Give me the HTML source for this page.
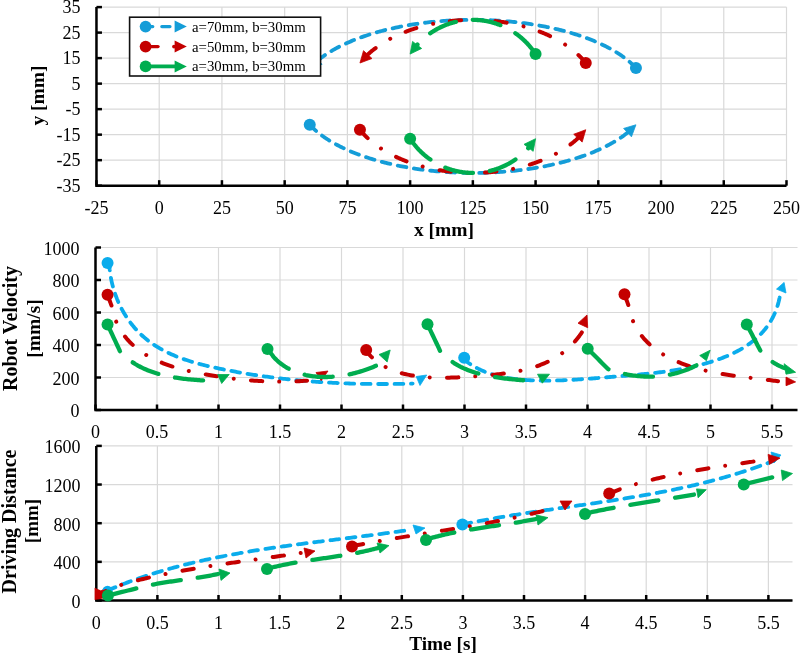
<!DOCTYPE html>
<html><head><meta charset="utf-8"><style>html,body{margin:0;padding:0;background:#fff;width:800px;height:654px;overflow:hidden}</style></head>
<body>
<svg width="800" height="654" viewBox="0 0 800 654" font-family="'Liberation Serif', serif" style="display:block;will-change:transform">
<rect width="800" height="654" fill="#fff"/>
<line x1="96.47" y1="7.10" x2="786.50" y2="7.10" stroke="#d9d9d9" stroke-width="1.2"/>
<line x1="96.47" y1="32.61" x2="786.50" y2="32.61" stroke="#d9d9d9" stroke-width="1.2"/>
<line x1="96.47" y1="58.12" x2="786.50" y2="58.12" stroke="#d9d9d9" stroke-width="1.2"/>
<line x1="96.47" y1="83.63" x2="786.50" y2="83.63" stroke="#d9d9d9" stroke-width="1.2"/>
<line x1="96.47" y1="109.14" x2="786.50" y2="109.14" stroke="#d9d9d9" stroke-width="1.2"/>
<line x1="96.47" y1="134.65" x2="786.50" y2="134.65" stroke="#d9d9d9" stroke-width="1.2"/>
<line x1="96.47" y1="160.16" x2="786.50" y2="160.16" stroke="#d9d9d9" stroke-width="1.2"/>
<line x1="96.47" y1="185.67" x2="786.50" y2="185.67" stroke="#d9d9d9" stroke-width="1.2"/>
<line x1="96.47" y1="7.10" x2="96.47" y2="185.67" stroke="#d9d9d9" stroke-width="1.2"/>
<line x1="159.20" y1="7.10" x2="159.20" y2="185.67" stroke="#d9d9d9" stroke-width="1.2"/>
<line x1="221.93" y1="7.10" x2="221.93" y2="185.67" stroke="#d9d9d9" stroke-width="1.2"/>
<line x1="284.66" y1="7.10" x2="284.66" y2="185.67" stroke="#d9d9d9" stroke-width="1.2"/>
<line x1="347.39" y1="7.10" x2="347.39" y2="185.67" stroke="#d9d9d9" stroke-width="1.2"/>
<line x1="410.12" y1="7.10" x2="410.12" y2="185.67" stroke="#d9d9d9" stroke-width="1.2"/>
<line x1="472.85" y1="7.10" x2="472.85" y2="185.67" stroke="#d9d9d9" stroke-width="1.2"/>
<line x1="535.58" y1="7.10" x2="535.58" y2="185.67" stroke="#d9d9d9" stroke-width="1.2"/>
<line x1="598.31" y1="7.10" x2="598.31" y2="185.67" stroke="#d9d9d9" stroke-width="1.2"/>
<line x1="661.04" y1="7.10" x2="661.04" y2="185.67" stroke="#d9d9d9" stroke-width="1.2"/>
<line x1="723.77" y1="7.10" x2="723.77" y2="185.67" stroke="#d9d9d9" stroke-width="1.2"/>
<line x1="786.50" y1="7.10" x2="786.50" y2="185.67" stroke="#d9d9d9" stroke-width="1.2"/>
<path d="M96.47,7.10 V185.67 H786.50" fill="none" stroke="#000" stroke-width="2.5"/>
<line x1="96.47" y1="7.10" x2="101.97" y2="7.10" stroke="#000" stroke-width="2.5"/>
<line x1="96.47" y1="32.61" x2="101.97" y2="32.61" stroke="#000" stroke-width="2.5"/>
<line x1="96.47" y1="58.12" x2="101.97" y2="58.12" stroke="#000" stroke-width="2.5"/>
<line x1="96.47" y1="83.63" x2="101.97" y2="83.63" stroke="#000" stroke-width="2.5"/>
<line x1="96.47" y1="109.14" x2="101.97" y2="109.14" stroke="#000" stroke-width="2.5"/>
<line x1="96.47" y1="134.65" x2="101.97" y2="134.65" stroke="#000" stroke-width="2.5"/>
<line x1="96.47" y1="160.16" x2="101.97" y2="160.16" stroke="#000" stroke-width="2.5"/>
<line x1="96.47" y1="185.67" x2="101.97" y2="185.67" stroke="#000" stroke-width="2.5"/>
<line x1="96.47" y1="185.67" x2="96.47" y2="180.17" stroke="#000" stroke-width="2.5"/>
<line x1="159.20" y1="185.67" x2="159.20" y2="180.17" stroke="#000" stroke-width="2.5"/>
<line x1="221.93" y1="185.67" x2="221.93" y2="180.17" stroke="#000" stroke-width="2.5"/>
<line x1="284.66" y1="185.67" x2="284.66" y2="180.17" stroke="#000" stroke-width="2.5"/>
<line x1="347.39" y1="185.67" x2="347.39" y2="180.17" stroke="#000" stroke-width="2.5"/>
<line x1="410.12" y1="185.67" x2="410.12" y2="180.17" stroke="#000" stroke-width="2.5"/>
<line x1="472.85" y1="185.67" x2="472.85" y2="180.17" stroke="#000" stroke-width="2.5"/>
<line x1="535.58" y1="185.67" x2="535.58" y2="180.17" stroke="#000" stroke-width="2.5"/>
<line x1="598.31" y1="185.67" x2="598.31" y2="180.17" stroke="#000" stroke-width="2.5"/>
<line x1="661.04" y1="185.67" x2="661.04" y2="180.17" stroke="#000" stroke-width="2.5"/>
<line x1="723.77" y1="185.67" x2="723.77" y2="180.17" stroke="#000" stroke-width="2.5"/>
<line x1="786.50" y1="185.67" x2="786.50" y2="180.17" stroke="#000" stroke-width="2.5"/>
<path d="M635.95,67.98 L635.29,67.28 L634.62,66.58 L633.94,65.88 L633.23,65.18 L632.51,64.49 L631.78,63.80 L631.03,63.12 L630.27,62.44 L629.49,61.76 L628.69,61.08 L627.88,60.41 L627.05,59.74 L626.21,59.08 L625.35,58.42 L624.48,57.76 L623.59,57.10 L622.69,56.45 L621.77,55.81 L620.84,55.17 L619.90,54.53 L618.94,53.90 L617.96,53.27 L616.97,52.64 L615.97,52.02 L614.95,51.40 L613.92,50.79 L612.88,50.18 L611.82,49.58 L610.75,48.98 L609.66,48.39 L608.56,47.80 L607.45,47.22 L606.32,46.64 L605.18,46.06 L604.03,45.49 L602.86,44.93 L601.69,44.37 L600.49,43.81 L599.29,43.27 L598.08,42.72 L596.85,42.18 L595.61,41.65 L594.35,41.12 L593.09,40.60 L591.81,40.08 L590.53,39.57 L589.23,39.06 L587.92,38.56 L586.59,38.07 L585.26,37.58 L583.92,37.10 L582.56,36.62 L581.19,36.15 L579.82,35.68 L578.43,35.22 L577.03,34.77 L575.62,34.32 L574.21,33.88 L572.78,33.45 L571.34,33.02 L569.89,32.60 L568.43,32.18 L566.97,31.77 L565.49,31.37 L564.01,30.97 L562.51,30.58 L561.01,30.19 L559.50,29.82 L557.98,29.44 L556.45,29.08 L554.91,28.72 L553.37,28.37 L551.82,28.03 L550.26,27.69 L548.69,27.36 L547.11,27.03 L545.53,26.71 L543.94,26.40 L542.34,26.10 L540.74,25.80 L539.13,25.51 L537.51,25.23 L535.89,24.95 L534.26,24.68 L532.62,24.42 L530.98,24.17 L529.33,23.92 L527.68,23.68 L526.02,23.45 L524.36,23.22 L522.69,23.00 L521.02,22.79 L519.34,22.58 L517.66,22.39 L515.97,22.20 L514.28,22.01 L512.58,21.84 L510.88,21.67 L509.18,21.51 L507.47,21.36 L505.76,21.21 L504.05,21.07 L502.33,20.94 L500.61,20.82 L498.89,20.70 L497.17,20.59 L495.44,20.49 L493.71,20.40 L491.98,20.31 L490.25,20.23 L488.51,20.16 L486.78,20.10 L485.04,20.04 L483.30,19.99 L481.56,19.95 L479.82,19.92 L478.08,19.89 L476.33,19.87 L474.59,19.86 L472.85,19.86 L471.11,19.86 L469.37,19.87 L467.62,19.89 L465.88,19.92 L464.14,19.95 L462.40,19.99 L460.66,20.04 L458.92,20.10 L457.19,20.16 L455.45,20.23 L453.72,20.31 L451.99,20.40 L450.26,20.49 L448.53,20.59 L446.81,20.70 L445.09,20.82 L443.37,20.94 L441.65,21.07 L439.94,21.21 L438.23,21.36 L436.52,21.51 L434.82,21.67 L433.12,21.84 L431.42,22.01 L429.73,22.20 L428.04,22.39 L426.36,22.58 L424.68,22.79 L423.01,23.00 L421.34,23.22 L419.68,23.45 L418.02,23.68 L416.37,23.92 L414.72,24.17 L413.08,24.42 L411.44,24.68 L409.81,24.95 L408.19,25.23 L406.57,25.51 L404.96,25.80 L403.36,26.10 L401.76,26.40 L400.17,26.71 L398.59,27.03 L397.01,27.36 L395.44,27.69 L393.88,28.03 L392.33,28.37 L390.79,28.72 L389.25,29.08 L387.72,29.44 L386.20,29.82 L384.69,30.19 L383.19,30.58 L381.69,30.97 L380.21,31.37 L378.73,31.77 L377.27,32.18 L375.81,32.60 L374.36,33.02 L372.92,33.45 L371.49,33.88 L370.08,34.32 L368.67,34.77 L367.27,35.22 L365.88,35.68 L364.51,36.15 L363.14,36.62 L361.78,37.10 L360.44,37.58 L359.11,38.07 L357.78,38.56 L356.47,39.06 L355.17,39.57 L353.89,40.08 L352.61,40.60 L351.35,41.12 L350.09,41.65 L348.85,42.18 L347.62,42.72 L346.41,43.27 L345.21,43.81 L344.01,44.37 L342.84,44.93 L341.67,45.49 L340.52,46.06 L339.38,46.64 L338.25,47.22 L337.14,47.80 L336.04,48.39 L334.95,48.98 L333.88,49.58 L332.82,50.18 L331.78,50.79 L330.75,51.40 L329.73,52.02 L328.73,52.64 L327.74,53.27 L326.76,53.90 L325.80,54.53 L324.86,55.17 L323.93,55.81 L323.01,56.45 L322.11,57.10 L321.22,57.76 L320.35,58.42 L319.49,59.08 L318.65,59.74 L318.15,60.14" fill="none" stroke="#149dd8" stroke-width="3.8" stroke-linecap="round" stroke-linejoin="round" stroke-dasharray="8.8,7.6" stroke-dashoffset="0"/>
<path d="M309.75,67.98 L314.24,55.93 L322.08,64.34 Z" fill="#149dd8" stroke="#149dd8" stroke-width="0.8" stroke-linejoin="round"/>
<circle cx="635.95" cy="67.98" r="6.0" fill="#149dd8"/>
<path d="M309.75,124.79 L310.41,125.49 L311.08,126.19 L311.76,126.89 L312.47,127.59 L313.19,128.28 L313.92,128.97 L314.67,129.65 L315.43,130.33 L316.21,131.01 L317.01,131.69 L317.82,132.36 L318.65,133.03 L319.49,133.69 L320.35,134.35 L321.22,135.01 L322.11,135.67 L323.01,136.32 L323.93,136.96 L324.86,137.60 L325.80,138.24 L326.76,138.87 L327.74,139.50 L328.73,140.13 L329.73,140.75 L330.75,141.37 L331.78,141.98 L332.82,142.59 L333.88,143.19 L334.95,143.79 L336.04,144.38 L337.14,144.97 L338.25,145.55 L339.38,146.13 L340.52,146.71 L341.67,147.28 L342.84,147.84 L344.01,148.40 L345.21,148.96 L346.41,149.50 L347.62,150.05 L348.85,150.59 L350.09,151.12 L351.35,151.65 L352.61,152.17 L353.89,152.69 L355.17,153.20 L356.47,153.71 L357.78,154.21 L359.11,154.70 L360.44,155.19 L361.78,155.67 L363.14,156.15 L364.51,156.62 L365.88,157.09 L367.27,157.55 L368.67,158.00 L370.08,158.45 L371.49,158.89 L372.92,159.32 L374.36,159.75 L375.81,160.17 L377.27,160.59 L378.73,161.00 L380.21,161.40 L381.69,161.80 L383.19,162.19 L384.69,162.58 L386.20,162.95 L387.72,163.33 L389.25,163.69 L390.79,164.05 L392.33,164.40 L393.88,164.74 L395.44,165.08 L397.01,165.41 L398.59,165.74 L400.17,166.06 L401.76,166.37 L403.36,166.67 L404.96,166.97 L406.57,167.26 L408.19,167.54 L409.81,167.82 L411.44,168.09 L413.08,168.35 L414.72,168.60 L416.37,168.85 L418.02,169.09 L419.68,169.32 L421.34,169.55 L423.01,169.77 L424.68,169.98 L426.36,170.19 L428.04,170.38 L429.73,170.57 L431.42,170.76 L433.12,170.93 L434.82,171.10 L436.52,171.26 L438.23,171.41 L439.94,171.56 L441.65,171.70 L443.37,171.83 L445.09,171.95 L446.81,172.07 L448.53,172.18 L450.26,172.28 L451.99,172.37 L453.72,172.46 L455.45,172.54 L457.19,172.61 L458.92,172.67 L460.66,172.73 L462.40,172.78 L464.14,172.82 L465.88,172.85 L467.62,172.88 L469.37,172.90 L471.11,172.91 L472.85,172.91 L474.59,172.91 L476.33,172.90 L478.08,172.88 L479.82,172.85 L481.56,172.82 L483.30,172.78 L485.04,172.73 L486.78,172.67 L488.51,172.61 L490.25,172.54 L491.98,172.46 L493.71,172.37 L495.44,172.28 L497.17,172.18 L498.89,172.07 L500.61,171.95 L502.33,171.83 L504.05,171.70 L505.76,171.56 L507.47,171.41 L509.18,171.26 L510.88,171.10 L512.58,170.93 L514.28,170.76 L515.97,170.57 L517.66,170.38 L519.34,170.19 L521.02,169.98 L522.69,169.77 L524.36,169.55 L526.02,169.32 L527.68,169.09 L529.33,168.85 L530.98,168.60 L532.62,168.35 L534.26,168.09 L535.89,167.82 L537.51,167.54 L539.13,167.26 L540.74,166.97 L542.34,166.67 L543.94,166.37 L545.53,166.06 L547.11,165.74 L548.69,165.41 L550.26,165.08 L551.82,164.74 L553.37,164.40 L554.91,164.05 L556.45,163.69 L557.98,163.33 L559.50,162.95 L561.01,162.58 L562.51,162.19 L564.01,161.80 L565.49,161.40 L566.97,161.00 L568.43,160.59 L569.89,160.17 L571.34,159.75 L572.78,159.32 L574.21,158.89 L575.62,158.45 L577.03,158.00 L578.43,157.55 L579.82,157.09 L581.19,156.62 L582.56,156.15 L583.92,155.67 L585.26,155.19 L586.59,154.70 L587.92,154.21 L589.23,153.71 L590.53,153.20 L591.81,152.69 L593.09,152.17 L594.35,151.65 L595.61,151.12 L596.85,150.59 L598.08,150.05 L599.29,149.50 L600.49,148.96 L601.69,148.40 L602.86,147.84 L604.03,147.28 L605.18,146.71 L606.32,146.13 L607.45,145.55 L608.56,144.97 L609.66,144.38 L610.75,143.79 L611.82,143.19 L612.88,142.59 L613.92,141.98 L614.95,141.37 L615.97,140.75 L616.97,140.13 L617.96,139.50 L618.94,138.87 L619.90,138.24 L620.84,137.60 L621.77,136.96 L622.69,136.32 L623.59,135.67 L624.48,135.01 L625.35,134.35 L626.21,133.69 L627.05,133.03 L627.55,132.63" fill="none" stroke="#149dd8" stroke-width="3.8" stroke-linecap="round" stroke-linejoin="round" stroke-dasharray="8.8,7.6" stroke-dashoffset="0"/>
<path d="M635.95,124.79 L631.46,136.84 L623.62,128.43 Z" fill="#149dd8" stroke="#149dd8" stroke-width="0.8" stroke-linejoin="round"/>
<circle cx="309.75" cy="124.79" r="6.0" fill="#149dd8"/>
<path d="M585.76,63.03 L585.25,62.39 L584.72,61.75 L584.19,61.11 L583.64,60.48 L583.09,59.85 L582.53,59.22 L581.95,58.60 L581.37,57.98 L580.78,57.37 L580.18,56.75 L579.57,56.14 L578.95,55.54 L578.32,54.94 L577.68,54.34 L577.03,53.74 L576.37,53.15 L575.71,52.56 L575.03,51.98 L574.35,51.40 L573.66,50.83 L572.96,50.25 L572.24,49.69 L571.53,49.12 L570.80,48.56 L570.06,48.01 L569.32,47.46 L568.57,46.91 L567.81,46.37 L567.04,45.83 L566.26,45.29 L565.47,44.76 L564.68,44.24 L563.88,43.72 L563.07,43.20 L562.25,42.69 L561.43,42.19 L560.59,41.68 L559.75,41.19 L558.90,40.69 L558.05,40.21 L557.18,39.72 L556.31,39.25 L555.44,38.77 L554.55,38.31 L553.66,37.84 L552.76,37.39 L551.85,36.93 L550.94,36.49 L550.02,36.05 L549.10,35.61 L548.16,35.18 L547.22,34.75 L546.28,34.33 L545.32,33.92 L544.37,33.51 L543.40,33.10 L542.43,32.70 L541.45,32.31 L540.47,31.92 L539.48,31.54 L538.49,31.16 L537.48,30.79 L536.48,30.43 L535.47,30.07 L534.45,29.71 L533.43,29.37 L532.40,29.03 L531.37,28.69 L530.33,28.36 L529.29,28.03 L528.24,27.72 L527.18,27.40 L526.13,27.10 L525.06,26.80 L524.00,26.50 L522.93,26.22 L521.85,25.93 L520.77,25.66 L519.69,25.39 L518.60,25.12 L517.51,24.87 L516.41,24.62 L515.31,24.37 L514.21,24.13 L513.10,23.90 L511.99,23.67 L510.88,23.45 L509.76,23.24 L508.64,23.03 L507.51,22.83 L506.39,22.64 L505.26,22.45 L504.13,22.27 L502.99,22.10 L501.85,21.93 L500.71,21.77 L499.57,21.61 L498.43,21.46 L497.28,21.32 L496.13,21.18 L494.98,21.05 L493.82,20.93 L492.67,20.82 L491.51,20.71 L490.35,20.60 L489.19,20.51 L488.03,20.42 L486.87,20.33 L485.71,20.26 L484.54,20.19 L483.37,20.12 L482.21,20.07 L481.04,20.02 L479.87,19.97 L478.70,19.94 L477.53,19.91 L476.36,19.88 L475.19,19.87 L474.02,19.86 L472.85,19.86 L471.68,19.86 L470.51,19.87 L469.34,19.88 L468.17,19.91 L467.00,19.94 L465.83,19.97 L464.66,20.02 L463.49,20.07 L462.33,20.12 L461.16,20.19 L459.99,20.26 L458.83,20.33 L457.67,20.42 L456.51,20.51 L455.35,20.60 L454.19,20.71 L453.03,20.82 L451.88,20.93 L450.72,21.05 L449.57,21.18 L448.42,21.32 L447.27,21.46 L446.13,21.61 L444.99,21.77 L443.85,21.93 L442.71,22.10 L441.57,22.27 L440.44,22.45 L439.31,22.64 L438.19,22.83 L437.06,23.03 L435.94,23.24 L434.82,23.45 L433.71,23.67 L432.60,23.90 L431.49,24.13 L430.39,24.37 L429.29,24.62 L428.19,24.87 L427.10,25.12 L426.01,25.39 L424.93,25.66 L423.85,25.93 L422.77,26.22 L421.70,26.50 L420.64,26.80 L419.57,27.10 L418.52,27.40 L417.46,27.72 L416.41,28.03 L415.37,28.36 L414.33,28.69 L413.30,29.03 L412.27,29.37 L411.25,29.71 L410.23,30.07 L409.22,30.43 L408.22,30.79 L407.21,31.16 L406.22,31.54 L405.23,31.92 L404.25,32.31 L403.27,32.70 L402.30,33.10 L401.33,33.51 L400.38,33.92 L399.42,34.33 L398.48,34.75 L397.54,35.18 L396.60,35.61 L395.68,36.05 L394.76,36.49 L393.85,36.93 L392.94,37.39 L392.04,37.84 L391.15,38.31 L390.26,38.77 L389.39,39.25 L388.52,39.72 L387.65,40.21 L386.80,40.69 L385.95,41.19 L385.11,41.68 L384.27,42.19 L383.45,42.69 L382.63,43.20 L381.82,43.72 L381.02,44.24 L380.23,44.76 L379.44,45.29 L378.66,45.83 L377.89,46.37 L377.13,46.91 L376.38,47.46 L375.64,48.01 L374.90,48.56 L374.17,49.12 L373.46,49.69 L372.74,50.25 L372.04,50.83 L371.35,51.40 L370.67,51.98 L369.99,52.56 L369.33,53.15 L368.67,53.74 L368.02,54.34 L367.74,54.60" fill="none" stroke="#c40000" stroke-width="4.0" stroke-linecap="round" stroke-linejoin="round" stroke-dasharray="11.4,16.9,0.01,17.3" stroke-dashoffset="0.5"/>
<path d="M359.94,63.03 L363.53,50.68 L371.97,58.50 Z" fill="#c40000" stroke="#c40000" stroke-width="0.8" stroke-linejoin="round"/>
<circle cx="585.76" cy="63.03" r="6.0" fill="#c40000"/>
<path d="M359.94,129.74 L360.45,130.38 L360.98,131.02 L361.51,131.66 L362.06,132.29 L362.61,132.92 L363.17,133.55 L363.75,134.17 L364.33,134.79 L364.92,135.40 L365.52,136.02 L366.13,136.63 L366.75,137.23 L367.38,137.83 L368.02,138.43 L368.67,139.03 L369.33,139.62 L369.99,140.21 L370.67,140.79 L371.35,141.37 L372.04,141.94 L372.74,142.52 L373.46,143.08 L374.17,143.65 L374.90,144.21 L375.64,144.76 L376.38,145.31 L377.13,145.86 L377.89,146.40 L378.66,146.94 L379.44,147.48 L380.23,148.01 L381.02,148.53 L381.82,149.05 L382.63,149.57 L383.45,150.08 L384.27,150.58 L385.11,151.09 L385.95,151.58 L386.80,152.08 L387.65,152.56 L388.52,153.05 L389.39,153.52 L390.26,154.00 L391.15,154.46 L392.04,154.93 L392.94,155.38 L393.85,155.84 L394.76,156.28 L395.68,156.72 L396.60,157.16 L397.54,157.59 L398.48,158.02 L399.42,158.44 L400.38,158.85 L401.33,159.26 L402.30,159.67 L403.27,160.07 L404.25,160.46 L405.23,160.85 L406.22,161.23 L407.21,161.61 L408.22,161.98 L409.22,162.34 L410.23,162.70 L411.25,163.06 L412.27,163.40 L413.30,163.74 L414.33,164.08 L415.37,164.41 L416.41,164.74 L417.46,165.05 L418.52,165.37 L419.57,165.67 L420.64,165.97 L421.70,166.27 L422.77,166.55 L423.85,166.84 L424.93,167.11 L426.01,167.38 L427.10,167.65 L428.19,167.90 L429.29,168.15 L430.39,168.40 L431.49,168.64 L432.60,168.87 L433.71,169.10 L434.82,169.32 L435.94,169.53 L437.06,169.74 L438.19,169.94 L439.31,170.13 L440.44,170.32 L441.57,170.50 L442.71,170.67 L443.85,170.84 L444.99,171.00 L446.13,171.16 L447.27,171.31 L448.42,171.45 L449.57,171.59 L450.72,171.72 L451.88,171.84 L453.03,171.95 L454.19,172.06 L455.35,172.17 L456.51,172.26 L457.67,172.35 L458.83,172.44 L459.99,172.51 L461.16,172.58 L462.33,172.65 L463.49,172.70 L464.66,172.75 L465.83,172.80 L467.00,172.83 L468.17,172.86 L469.34,172.89 L470.51,172.90 L471.68,172.91 L472.85,172.91 L474.02,172.91 L475.19,172.90 L476.36,172.89 L477.53,172.86 L478.70,172.83 L479.87,172.80 L481.04,172.75 L482.21,172.70 L483.37,172.65 L484.54,172.58 L485.71,172.51 L486.87,172.44 L488.03,172.35 L489.19,172.26 L490.35,172.17 L491.51,172.06 L492.67,171.95 L493.82,171.84 L494.98,171.72 L496.13,171.59 L497.28,171.45 L498.43,171.31 L499.57,171.16 L500.71,171.00 L501.85,170.84 L502.99,170.67 L504.13,170.50 L505.26,170.32 L506.39,170.13 L507.51,169.94 L508.64,169.74 L509.76,169.53 L510.88,169.32 L511.99,169.10 L513.10,168.87 L514.21,168.64 L515.31,168.40 L516.41,168.15 L517.51,167.90 L518.60,167.65 L519.69,167.38 L520.77,167.11 L521.85,166.84 L522.93,166.55 L524.00,166.27 L525.06,165.97 L526.13,165.67 L527.18,165.37 L528.24,165.05 L529.29,164.74 L530.33,164.41 L531.37,164.08 L532.40,163.74 L533.43,163.40 L534.45,163.06 L535.47,162.70 L536.48,162.34 L537.48,161.98 L538.49,161.61 L539.48,161.23 L540.47,160.85 L541.45,160.46 L542.43,160.07 L543.40,159.67 L544.37,159.26 L545.32,158.85 L546.28,158.44 L547.22,158.02 L548.16,157.59 L549.10,157.16 L550.02,156.72 L550.94,156.28 L551.85,155.84 L552.76,155.38 L553.66,154.93 L554.55,154.46 L555.44,154.00 L556.31,153.52 L557.18,153.05 L558.05,152.56 L558.90,152.08 L559.75,151.58 L560.59,151.09 L561.43,150.58 L562.25,150.08 L563.07,149.57 L563.88,149.05 L564.68,148.53 L565.47,148.01 L566.26,147.48 L567.04,146.94 L567.81,146.40 L568.57,145.86 L569.32,145.31 L570.06,144.76 L570.80,144.21 L571.53,143.65 L572.24,143.08 L572.96,142.52 L573.66,141.94 L574.35,141.37 L575.03,140.79 L575.71,140.21 L576.37,139.62 L577.03,139.03 L577.68,138.43 L577.96,138.17" fill="none" stroke="#c40000" stroke-width="4.0" stroke-linecap="round" stroke-linejoin="round" stroke-dasharray="11.4,16.9,0.01,17.3" stroke-dashoffset="0"/>
<path d="M585.76,129.74 L582.17,142.09 L573.73,134.27 Z" fill="#c40000" stroke="#c40000" stroke-width="0.8" stroke-linejoin="round"/>
<circle cx="359.94" cy="129.74" r="6.0" fill="#c40000"/>
<path d="M535.58,54.08 L535.24,53.56 L534.89,53.04 L534.54,52.52 L534.18,52.01 L533.82,51.50 L533.46,50.99 L533.09,50.49 L532.71,49.99 L532.34,49.49 L531.96,48.99 L531.57,48.50 L531.18,48.01 L530.79,47.53 L530.39,47.05 L529.99,46.57 L529.59,46.09 L529.18,45.62 L528.77,45.15 L528.35,44.69 L527.94,44.23 L527.51,43.77 L527.09,43.31 L526.66,42.86 L526.22,42.42 L525.78,41.97 L525.34,41.53 L524.90,41.10 L524.45,40.66 L524.00,40.23 L523.54,39.81 L523.08,39.39 L522.62,38.97 L522.16,38.56 L521.69,38.15 L521.22,37.74 L520.74,37.34 L520.26,36.94 L519.78,36.55 L519.30,36.16 L518.81,35.77 L518.32,35.39 L517.82,35.02 L517.33,34.64 L516.83,34.27 L516.32,33.91 L515.82,33.55 L515.31,33.19 L514.80,32.84 L514.28,32.49 L513.77,32.15 L513.25,31.81 L512.72,31.47 L512.20,31.14 L511.67,30.82 L511.14,30.49 L510.60,30.18 L510.07,29.86 L509.53,29.56 L508.99,29.25 L508.45,28.95 L507.90,28.66 L507.35,28.37 L506.80,28.08 L506.25,27.80 L505.69,27.52 L505.14,27.25 L504.58,26.99 L504.02,26.72 L503.45,26.46 L502.89,26.21 L502.32,25.96 L501.75,25.72 L501.18,25.48 L500.61,25.25 L500.03,25.02 L499.45,24.79 L498.87,24.57 L498.29,24.36 L497.71,24.15 L497.13,23.94 L496.54,23.74 L495.95,23.55 L495.36,23.36 L494.77,23.17 L494.18,22.99 L493.59,22.82 L492.99,22.65 L492.40,22.48 L491.80,22.32 L491.20,22.16 L490.60,22.01 L490.00,21.87 L489.40,21.73 L488.80,21.59 L488.19,21.46 L487.59,21.34 L486.98,21.22 L486.37,21.10 L485.76,20.99 L485.15,20.88 L484.54,20.78 L483.93,20.69 L483.32,20.60 L482.71,20.51 L482.10,20.43 L481.48,20.36 L480.87,20.29 L480.25,20.23 L479.64,20.17 L479.02,20.11 L478.41,20.06 L477.79,20.02 L477.17,19.98 L476.56,19.95 L475.94,19.92 L475.32,19.90 L474.70,19.88 L474.09,19.87 L473.47,19.86 L472.85,19.86 L472.23,19.86 L471.61,19.87 L471.00,19.88 L470.38,19.90 L469.76,19.92 L469.14,19.95 L468.53,19.98 L467.91,20.02 L467.29,20.06 L466.68,20.11 L466.06,20.17 L465.45,20.23 L464.83,20.29 L464.22,20.36 L463.60,20.43 L462.99,20.51 L462.38,20.60 L461.77,20.69 L461.16,20.78 L460.55,20.88 L459.94,20.99 L459.33,21.10 L458.72,21.22 L458.11,21.34 L457.51,21.46 L456.90,21.59 L456.30,21.73 L455.70,21.87 L455.10,22.01 L454.50,22.16 L453.90,22.32 L453.30,22.48 L452.71,22.65 L452.11,22.82 L451.52,22.99 L450.93,23.17 L450.34,23.36 L449.75,23.55 L449.16,23.74 L448.57,23.94 L447.99,24.15 L447.41,24.36 L446.83,24.57 L446.25,24.79 L445.67,25.02 L445.09,25.25 L444.52,25.48 L443.95,25.72 L443.38,25.96 L442.81,26.21 L442.25,26.46 L441.68,26.72 L441.12,26.99 L440.56,27.25 L440.01,27.52 L439.45,27.80 L438.90,28.08 L438.35,28.37 L437.80,28.66 L437.25,28.95 L436.71,29.25 L436.17,29.56 L435.63,29.86 L435.10,30.18 L434.56,30.49 L434.03,30.82 L433.50,31.14 L432.98,31.47 L432.45,31.81 L431.93,32.15 L431.42,32.49 L430.90,32.84 L430.39,33.19 L429.88,33.55 L429.38,33.91 L428.87,34.27 L428.37,34.64 L427.88,35.02 L427.38,35.39 L426.89,35.77 L426.40,36.16 L425.92,36.55 L425.44,36.94 L424.96,37.34 L424.48,37.74 L424.01,38.15 L423.54,38.56 L423.08,38.97 L422.62,39.39 L422.16,39.81 L421.70,40.23 L421.25,40.66 L420.80,41.10 L420.36,41.53 L419.92,41.97 L419.48,42.42 L419.04,42.86 L418.61,43.31 L418.19,43.77 L417.76,44.23 L417.35,44.69 L417.10,44.96" fill="none" stroke="#00ad4f" stroke-width="4.3" stroke-linecap="round" stroke-linejoin="round" stroke-dasharray="28.3,17" stroke-dashoffset="-1"/>
<path d="M410.12,54.08 L412.54,41.45 L421.68,48.44 Z" fill="#00ad4f" stroke="#00ad4f" stroke-width="0.8" stroke-linejoin="round"/>
<circle cx="535.58" cy="54.08" r="6.0" fill="#00ad4f"/>
<path d="M410.12,138.69 L410.46,139.21 L410.81,139.73 L411.16,140.25 L411.52,140.76 L411.88,141.27 L412.24,141.78 L412.61,142.28 L412.99,142.78 L413.36,143.28 L413.74,143.78 L414.13,144.27 L414.52,144.76 L414.91,145.24 L415.31,145.72 L415.71,146.20 L416.11,146.68 L416.52,147.15 L416.93,147.62 L417.35,148.08 L417.76,148.54 L418.19,149.00 L418.61,149.46 L419.04,149.91 L419.48,150.35 L419.92,150.80 L420.36,151.24 L420.80,151.67 L421.25,152.11 L421.70,152.54 L422.16,152.96 L422.62,153.38 L423.08,153.80 L423.54,154.21 L424.01,154.62 L424.48,155.03 L424.96,155.43 L425.44,155.83 L425.92,156.22 L426.40,156.61 L426.89,157.00 L427.38,157.38 L427.88,157.75 L428.37,158.13 L428.87,158.50 L429.38,158.86 L429.88,159.22 L430.39,159.58 L430.90,159.93 L431.42,160.28 L431.93,160.62 L432.45,160.96 L432.98,161.30 L433.50,161.63 L434.03,161.95 L434.56,162.28 L435.10,162.59 L435.63,162.91 L436.17,163.21 L436.71,163.52 L437.25,163.82 L437.80,164.11 L438.35,164.40 L438.90,164.69 L439.45,164.97 L440.01,165.25 L440.56,165.52 L441.12,165.78 L441.68,166.05 L442.25,166.31 L442.81,166.56 L443.38,166.81 L443.95,167.05 L444.52,167.29 L445.09,167.52 L445.67,167.75 L446.25,167.98 L446.83,168.20 L447.41,168.41 L447.99,168.62 L448.57,168.83 L449.16,169.03 L449.75,169.22 L450.34,169.41 L450.93,169.60 L451.52,169.78 L452.11,169.95 L452.71,170.12 L453.30,170.29 L453.90,170.45 L454.50,170.61 L455.10,170.76 L455.70,170.90 L456.30,171.04 L456.90,171.18 L457.51,171.31 L458.11,171.43 L458.72,171.55 L459.33,171.67 L459.94,171.78 L460.55,171.89 L461.16,171.99 L461.77,172.08 L462.38,172.17 L462.99,172.26 L463.60,172.34 L464.22,172.41 L464.83,172.48 L465.45,172.54 L466.06,172.60 L466.68,172.66 L467.29,172.71 L467.91,172.75 L468.53,172.79 L469.14,172.82 L469.76,172.85 L470.38,172.87 L471.00,172.89 L471.61,172.90 L472.23,172.91 L472.85,172.91 L473.47,172.91 L474.09,172.90 L474.70,172.89 L475.32,172.87 L475.94,172.85 L476.56,172.82 L477.17,172.79 L477.79,172.75 L478.41,172.71 L479.02,172.66 L479.64,172.60 L480.25,172.54 L480.87,172.48 L481.48,172.41 L482.10,172.34 L482.71,172.26 L483.32,172.17 L483.93,172.08 L484.54,171.99 L485.15,171.89 L485.76,171.78 L486.37,171.67 L486.98,171.55 L487.59,171.43 L488.19,171.31 L488.80,171.18 L489.40,171.04 L490.00,170.90 L490.60,170.76 L491.20,170.61 L491.80,170.45 L492.40,170.29 L492.99,170.12 L493.59,169.95 L494.18,169.78 L494.77,169.60 L495.36,169.41 L495.95,169.22 L496.54,169.03 L497.13,168.83 L497.71,168.62 L498.29,168.41 L498.87,168.20 L499.45,167.98 L500.03,167.75 L500.61,167.52 L501.18,167.29 L501.75,167.05 L502.32,166.81 L502.89,166.56 L503.45,166.31 L504.02,166.05 L504.58,165.78 L505.14,165.52 L505.69,165.25 L506.25,164.97 L506.80,164.69 L507.35,164.40 L507.90,164.11 L508.45,163.82 L508.99,163.52 L509.53,163.21 L510.07,162.91 L510.60,162.59 L511.14,162.28 L511.67,161.95 L512.20,161.63 L512.72,161.30 L513.25,160.96 L513.77,160.62 L514.28,160.28 L514.80,159.93 L515.31,159.58 L515.82,159.22 L516.32,158.86 L516.83,158.50 L517.33,158.13 L517.82,157.75 L518.32,157.38 L518.81,157.00 L519.30,156.61 L519.78,156.22 L520.26,155.83 L520.74,155.43 L521.22,155.03 L521.69,154.62 L522.16,154.21 L522.62,153.80 L523.08,153.38 L523.54,152.96 L524.00,152.54 L524.45,152.11 L524.90,151.67 L525.34,151.24 L525.78,150.80 L526.22,150.35 L526.66,149.91 L527.09,149.46 L527.51,149.00 L527.94,148.54 L528.35,148.08 L528.60,147.81" fill="none" stroke="#00ad4f" stroke-width="4.3" stroke-linecap="round" stroke-linejoin="round" stroke-dasharray="28.3,17" stroke-dashoffset="-1"/>
<path d="M535.58,138.69 L533.16,151.32 L524.02,144.33 Z" fill="#00ad4f" stroke="#00ad4f" stroke-width="0.8" stroke-linejoin="round"/>
<circle cx="410.12" cy="138.69" r="6.0" fill="#00ad4f"/>
<text x="80.50" y="13.30" text-anchor="end" font-size="18">35</text>
<text x="80.50" y="38.81" text-anchor="end" font-size="18">25</text>
<text x="80.50" y="64.32" text-anchor="end" font-size="18">15</text>
<text x="80.50" y="89.83" text-anchor="end" font-size="18">5</text>
<text x="80.50" y="115.34" text-anchor="end" font-size="18">-5</text>
<text x="80.50" y="140.85" text-anchor="end" font-size="18">-15</text>
<text x="80.50" y="166.36" text-anchor="end" font-size="18">-25</text>
<text x="80.50" y="191.87" text-anchor="end" font-size="18">-35</text>
<text x="96.47" y="213.50" text-anchor="middle" font-size="18">-25</text>
<text x="159.20" y="213.50" text-anchor="middle" font-size="18">0</text>
<text x="221.93" y="213.50" text-anchor="middle" font-size="18">25</text>
<text x="284.66" y="213.50" text-anchor="middle" font-size="18">50</text>
<text x="347.39" y="213.50" text-anchor="middle" font-size="18">75</text>
<text x="410.12" y="213.50" text-anchor="middle" font-size="18">100</text>
<text x="472.85" y="213.50" text-anchor="middle" font-size="18">125</text>
<text x="535.58" y="213.50" text-anchor="middle" font-size="18">150</text>
<text x="598.31" y="213.50" text-anchor="middle" font-size="18">175</text>
<text x="661.04" y="213.50" text-anchor="middle" font-size="18">200</text>
<text x="723.77" y="213.50" text-anchor="middle" font-size="18">225</text>
<text x="786.50" y="213.50" text-anchor="middle" font-size="18">250</text>
<text transform="translate(43.5,95.5) rotate(-90)" text-anchor="middle" font-size="19.5" font-weight="bold">y [mm]</text>
<text x="444" y="236" text-anchor="middle" font-size="19.5" font-weight="bold">x [mm]</text>
<rect x="129.6" y="17.2" width="191" height="58.8" fill="#fff" stroke="#111" stroke-width="1.6"/>
<circle cx="145.6" cy="26.6" r="5.9" fill="#149dd8"/>
<path d="M146,26.6 H152.8 M161.8,26.6 H170" stroke="#149dd8" stroke-width="3.2" stroke-linecap="round"/>
<path d="M174.6,20.6 L186.8,26.6 L174.6,32.6 Z" fill="#149dd8"/>
<circle cx="145.6" cy="46.6" r="5.9" fill="#c40000"/>
<path d="M146,46.6 H158" stroke="#c40000" stroke-width="3.4" stroke-linecap="round"/>
<circle cx="174" cy="46.6" r="1.9" fill="#c40000"/>
<path d="M174.6,40.6 L186.8,46.6 L174.6,52.6 Z" fill="#c40000"/>
<circle cx="145.6" cy="66.4" r="5.9" fill="#00ad4f"/>
<path d="M146,66.4 H176" stroke="#00ad4f" stroke-width="3.8"/>
<path d="M174.6,60.400000000000006 L186.8,66.4 L174.6,72.4 Z" fill="#00ad4f"/>
<text x="192" y="31.60" font-size="14.8">a=70mm, b=30mm</text>
<text x="192" y="51.60" font-size="14.8">a=50mm, b=30mm</text>
<text x="192" y="71.40" font-size="14.8">a=30mm, b=30mm</text>
<line x1="95.50" y1="247.50" x2="797.50" y2="247.50" stroke="#d9d9d9" stroke-width="1.2"/>
<line x1="95.50" y1="280.00" x2="797.50" y2="280.00" stroke="#d9d9d9" stroke-width="1.2"/>
<line x1="95.50" y1="312.50" x2="797.50" y2="312.50" stroke="#d9d9d9" stroke-width="1.2"/>
<line x1="95.50" y1="345.00" x2="797.50" y2="345.00" stroke="#d9d9d9" stroke-width="1.2"/>
<line x1="95.50" y1="377.50" x2="797.50" y2="377.50" stroke="#d9d9d9" stroke-width="1.2"/>
<line x1="95.50" y1="410.00" x2="797.50" y2="410.00" stroke="#d9d9d9" stroke-width="1.2"/>
<line x1="95.50" y1="247.50" x2="95.50" y2="410.00" stroke="#d9d9d9" stroke-width="1.2"/>
<line x1="157.00" y1="247.50" x2="157.00" y2="410.00" stroke="#d9d9d9" stroke-width="1.2"/>
<line x1="218.50" y1="247.50" x2="218.50" y2="410.00" stroke="#d9d9d9" stroke-width="1.2"/>
<line x1="280.00" y1="247.50" x2="280.00" y2="410.00" stroke="#d9d9d9" stroke-width="1.2"/>
<line x1="341.50" y1="247.50" x2="341.50" y2="410.00" stroke="#d9d9d9" stroke-width="1.2"/>
<line x1="403.00" y1="247.50" x2="403.00" y2="410.00" stroke="#d9d9d9" stroke-width="1.2"/>
<line x1="464.50" y1="247.50" x2="464.50" y2="410.00" stroke="#d9d9d9" stroke-width="1.2"/>
<line x1="526.00" y1="247.50" x2="526.00" y2="410.00" stroke="#d9d9d9" stroke-width="1.2"/>
<line x1="587.50" y1="247.50" x2="587.50" y2="410.00" stroke="#d9d9d9" stroke-width="1.2"/>
<line x1="649.00" y1="247.50" x2="649.00" y2="410.00" stroke="#d9d9d9" stroke-width="1.2"/>
<line x1="710.50" y1="247.50" x2="710.50" y2="410.00" stroke="#d9d9d9" stroke-width="1.2"/>
<line x1="772.00" y1="247.50" x2="772.00" y2="410.00" stroke="#d9d9d9" stroke-width="1.2"/>
<path d="M95.50,247.50 V410.00 H797.50" fill="none" stroke="#000" stroke-width="2.5"/>
<line x1="95.50" y1="247.50" x2="101.00" y2="247.50" stroke="#000" stroke-width="2.5"/>
<line x1="95.50" y1="280.00" x2="101.00" y2="280.00" stroke="#000" stroke-width="2.5"/>
<line x1="95.50" y1="312.50" x2="101.00" y2="312.50" stroke="#000" stroke-width="2.5"/>
<line x1="95.50" y1="345.00" x2="101.00" y2="345.00" stroke="#000" stroke-width="2.5"/>
<line x1="95.50" y1="377.50" x2="101.00" y2="377.50" stroke="#000" stroke-width="2.5"/>
<line x1="95.50" y1="410.00" x2="101.00" y2="410.00" stroke="#000" stroke-width="2.5"/>
<line x1="95.50" y1="410.00" x2="95.50" y2="404.50" stroke="#000" stroke-width="2.5"/>
<line x1="157.00" y1="410.00" x2="157.00" y2="404.50" stroke="#000" stroke-width="2.5"/>
<line x1="218.50" y1="410.00" x2="218.50" y2="404.50" stroke="#000" stroke-width="2.5"/>
<line x1="280.00" y1="410.00" x2="280.00" y2="404.50" stroke="#000" stroke-width="2.5"/>
<line x1="341.50" y1="410.00" x2="341.50" y2="404.50" stroke="#000" stroke-width="2.5"/>
<line x1="403.00" y1="410.00" x2="403.00" y2="404.50" stroke="#000" stroke-width="2.5"/>
<line x1="464.50" y1="410.00" x2="464.50" y2="404.50" stroke="#000" stroke-width="2.5"/>
<line x1="526.00" y1="410.00" x2="526.00" y2="404.50" stroke="#000" stroke-width="2.5"/>
<line x1="587.50" y1="410.00" x2="587.50" y2="404.50" stroke="#000" stroke-width="2.5"/>
<line x1="649.00" y1="410.00" x2="649.00" y2="404.50" stroke="#000" stroke-width="2.5"/>
<line x1="710.50" y1="410.00" x2="710.50" y2="404.50" stroke="#000" stroke-width="2.5"/>
<line x1="772.00" y1="410.00" x2="772.00" y2="404.50" stroke="#000" stroke-width="2.5"/>
<path d="M109.08,261.58 L109.16,263.22 L109.26,264.86 L109.39,266.49 L109.54,268.11 L109.70,269.72 L109.90,271.32 L110.11,272.92 L110.34,274.51 L110.60,276.08 L110.87,277.65 L111.17,279.22 L111.49,280.77 L111.83,282.31 L112.19,283.85 L112.57,285.37 L112.98,286.88 L113.40,288.39 L113.84,289.88 L114.30,291.36 L114.78,292.84 L115.28,294.30 L115.81,295.75 L116.35,297.19 L116.90,298.62 L117.48,300.03 L118.08,301.44 L118.70,302.83 L119.33,304.21 L119.98,305.58 L120.65,306.94 L121.34,308.28 L122.05,309.61 L122.78,310.93 L123.52,312.23 L124.28,313.52 L125.05,314.80 L125.85,316.07 L126.66,317.31 L127.49,318.55 L128.33,319.77 L129.19,320.98 L130.07,322.17 L130.97,323.34 L131.88,324.51 L132.80,325.65 L133.74,326.78 L134.70,327.90 L135.67,329.00 L136.66,330.08 L137.66,331.15 L138.68,332.20 L139.71,333.23 L140.76,334.25 L141.82,335.25 L142.90,336.23 L143.99,337.19 L145.10,338.14 L146.21,339.07 L147.35,339.98 L148.49,340.87 L149.65,341.75 L150.82,342.61 L152.01,343.45 L153.21,344.27 L154.42,345.08 L155.64,345.87 L156.87,346.64 L158.12,347.40 L159.37,348.14 L160.64,348.87 L161.92,349.58 L163.21,350.28 L164.51,350.96 L165.82,351.63 L167.13,352.28 L168.46,352.92 L169.80,353.54 L171.15,354.16 L172.50,354.75 L173.87,355.34 L175.24,355.91 L176.62,356.47 L178.01,357.02 L179.40,357.56 L180.81,358.08 L182.22,358.60 L183.63,359.10 L185.06,359.59 L186.49,360.07 L187.92,360.55 L189.37,361.01 L190.81,361.46 L192.26,361.90 L193.72,362.33 L195.18,362.76 L196.65,363.17 L198.12,363.58 L199.60,363.98 L201.08,364.37 L202.56,364.75 L204.04,365.12 L205.53,365.49 L207.02,365.85 L208.52,366.21 L210.01,366.56 L211.51,366.90 L213.01,367.23 L214.51,367.56 L216.01,367.89 L217.52,368.21 L219.02,368.53 L220.53,368.84 L222.03,369.14 L223.54,369.45 L225.04,369.74 L226.54,370.04 L228.05,370.33 L229.55,370.62 L231.05,370.90 L232.56,371.19 L234.06,371.46 L235.56,371.74 L237.06,372.01 L238.56,372.28 L240.06,372.54 L241.56,372.80 L243.06,373.06 L244.56,373.31 L246.06,373.56 L247.56,373.81 L249.06,374.05 L250.56,374.29 L252.06,374.53 L253.55,374.77 L255.05,375.00 L256.55,375.22 L258.04,375.45 L259.54,375.67 L261.04,375.89 L262.53,376.10 L264.03,376.31 L265.53,376.52 L267.02,376.72 L268.52,376.93 L270.01,377.12 L271.51,377.32 L273.00,377.51 L274.50,377.70 L275.99,377.89 L277.49,378.07 L278.98,378.25 L280.47,378.43 L281.97,378.60 L283.46,378.77 L284.96,378.94 L286.45,379.10 L287.94,379.26 L289.44,379.42 L290.93,379.58 L292.42,379.73 L293.92,379.88 L295.41,380.03 L296.91,380.17 L298.40,380.31 L299.89,380.45 L301.39,380.59 L302.88,380.72 L304.37,380.85 L305.87,380.98 L307.36,381.10 L308.86,381.22 L310.35,381.34 L311.84,381.45 L313.34,381.57 L314.83,381.68 L316.33,381.78 L317.82,381.89 L319.32,381.99 L320.81,382.09 L322.31,382.19 L323.80,382.28 L325.30,382.37 L326.79,382.46 L328.29,382.55 L329.79,382.63 L331.28,382.71 L332.78,382.79 L334.27,382.86 L335.77,382.94 L337.27,383.01 L338.77,383.08 L340.26,383.14 L341.76,383.20 L343.26,383.26 L344.76,383.32 L346.26,383.38 L347.76,383.43 L349.26,383.48 L350.76,383.53 L352.26,383.57 L353.76,383.62 L355.26,383.66 L356.76,383.70 L358.26,383.73 L359.76,383.77 L361.27,383.80 L362.77,383.83 L364.27,383.85 L365.78,383.88 L367.28,383.90 L368.78,383.92 L370.29,383.94 L371.79,383.95 L373.30,383.97 L374.81,383.98 L376.31,383.99 L377.82,383.99 L379.33,384.00 L380.84,384.00 L382.35,384.00 L383.86,384.00 L385.37,383.99 L386.88,383.99 L388.39,383.98 L389.90,383.97 L391.42,383.96 L392.93,383.94 L394.44,383.93 L395.96,383.91 L397.47,383.89 L398.99,383.86 L400.50,383.84 L402.02,383.81 L403.54,383.78 L405.06,383.75 L406.58,383.72 L408.10,383.69 L409.62,383.65 L411.14,383.61 L412.66,383.57" fill="none" stroke="#0aacec" stroke-width="3.8" stroke-linecap="round" stroke-linejoin="round" stroke-dasharray="8.8,7.6" stroke-dashoffset="0"/>
<path d="M416.2,376.5 L426.7,375 L420,385.5 Z" fill="#0aacec" stroke="#0aacec" stroke-width="0.8" stroke-linejoin="round"/>
<circle cx="107.55" cy="262.95" r="6.0" fill="#0aacec"/>
<path d="M463.21,358.92 L464.42,359.90 L465.65,360.86 L466.88,361.79 L468.13,362.68 L469.39,363.55 L470.66,364.39 L471.93,365.20 L473.22,365.99 L474.52,366.75 L475.83,367.48 L477.14,368.18 L478.47,368.86 L479.80,369.51 L481.14,370.14 L482.49,370.75 L483.85,371.33 L485.22,371.88 L486.59,372.42 L487.98,372.93 L489.36,373.42 L490.76,373.89 L492.16,374.34 L493.57,374.77 L494.99,375.18 L496.41,375.57 L497.84,375.94 L499.27,376.29 L500.71,376.62 L502.15,376.94 L503.60,377.24 L505.05,377.52 L506.51,377.79 L507.97,378.04 L509.44,378.27 L510.91,378.50 L512.38,378.70 L513.86,378.90 L515.34,379.08 L516.82,379.25 L518.31,379.40 L519.79,379.54 L521.28,379.68 L522.77,379.80 L524.27,379.91 L525.76,380.01 L527.26,380.11 L528.76,380.19 L530.25,380.26 L531.75,380.33 L533.25,380.39 L534.75,380.44 L536.25,380.49 L537.75,380.53 L539.25,380.56 L540.75,380.59 L542.25,380.60 L543.75,380.62 L545.26,380.62 L546.76,380.62 L548.26,380.62 L549.76,380.60 L551.27,380.59 L552.77,380.56 L554.27,380.54 L555.78,380.50 L557.28,380.46 L558.79,380.42 L560.29,380.37 L561.80,380.32 L563.30,380.26 L564.81,380.20 L566.31,380.13 L567.82,380.06 L569.33,379.99 L570.83,379.91 L572.34,379.83 L573.85,379.74 L575.36,379.66 L576.86,379.56 L578.37,379.47 L579.88,379.37 L581.39,379.27 L582.90,379.17 L584.41,379.06 L585.92,378.95 L587.43,378.84 L588.94,378.73 L590.45,378.61 L591.96,378.50 L593.48,378.38 L594.99,378.26 L596.50,378.14 L598.01,378.02 L599.53,377.89 L601.04,377.77 L602.55,377.64 L604.07,377.52 L605.58,377.39 L607.10,377.26 L608.61,377.13 L610.13,377.01 L611.64,376.88 L613.16,376.75 L614.67,376.62 L616.19,376.50 L617.70,376.37 L619.22,376.24 L620.74,376.12 L622.25,375.99 L623.77,375.86 L625.29,375.74 L626.81,375.61 L628.32,375.48 L629.84,375.35 L631.36,375.22 L632.87,375.08 L634.39,374.95 L635.90,374.81 L637.42,374.67 L638.93,374.53 L640.45,374.39 L641.96,374.25 L643.48,374.10 L644.99,373.95 L646.50,373.80 L648.01,373.64 L649.53,373.48 L651.04,373.32 L652.55,373.15 L654.05,372.98 L655.56,372.81 L657.07,372.63 L658.57,372.44 L660.08,372.26 L661.58,372.07 L663.08,371.87 L664.59,371.67 L666.09,371.46 L667.58,371.25 L669.08,371.03 L670.58,370.81 L672.07,370.58 L673.57,370.35 L675.06,370.11 L676.55,369.86 L678.04,369.61 L679.52,369.35 L681.01,369.08 L682.49,368.81 L683.97,368.53 L685.45,368.24 L686.93,367.94 L688.41,367.64 L689.88,367.33 L691.35,367.01 L692.82,366.68 L694.29,366.35 L695.76,366.00 L697.22,365.65 L698.68,365.29 L700.14,364.92 L701.60,364.54 L703.05,364.15 L704.51,363.75 L705.95,363.34 L707.40,362.92 L708.85,362.49 L710.29,362.06 L711.73,361.61 L713.16,361.15 L714.60,360.68 L716.03,360.20 L717.45,359.71 L718.87,359.20 L720.29,358.69 L721.70,358.16 L723.11,357.62 L724.50,357.07 L725.90,356.50 L727.28,355.92 L728.66,355.33 L730.03,354.72 L731.39,354.10 L732.74,353.47 L734.09,352.82 L735.42,352.16 L736.74,351.48 L738.06,350.79 L739.36,350.08 L740.65,349.36 L741.93,348.62 L743.19,347.86 L744.45,347.09 L745.69,346.30 L746.91,345.50 L748.13,344.67 L749.33,343.83 L750.51,342.97 L751.68,342.10 L752.83,341.20 L753.96,340.29 L755.08,339.36 L756.19,338.41 L757.27,337.44 L758.34,336.45 L759.39,335.44 L760.42,334.41 L761.43,333.36 L762.42,332.28 L763.39,331.19 L764.34,330.08 L765.26,328.95 L766.17,327.79 L767.06,326.61 L767.92,325.41 L768.76,324.19 L769.58,322.95 L770.37,321.68 L771.14,320.39 L771.88,319.07 L772.60,317.73 L773.30,316.37 L773.97,314.99 L774.61,313.57 L775.22,312.14 L775.81,310.68 L776.37,309.19 L776.90,307.68 L777.41,306.14 L777.88,304.58 L778.33,302.99 L778.75,301.38 L779.13,299.73 L779.49,298.06 L779.81,296.37" fill="none" stroke="#0aacec" stroke-width="3.8" stroke-linecap="round" stroke-linejoin="round" stroke-dasharray="8.8,7.6" stroke-dashoffset="0"/>
<path d="M776.5,289.1 L784.1,282.4 L786,293 Z" fill="#0aacec" stroke="#0aacec" stroke-width="0.8" stroke-linejoin="round"/>
<circle cx="464.2" cy="357.7" r="6.0" fill="#0aacec"/>
<path d="M107.55,294.80 L107.98,295.99 L108.42,297.18 L108.86,298.37 L109.29,299.56 L109.72,300.75 L110.16,301.94 L110.59,303.13 L111.03,304.32 L111.47,305.51 L111.88,306.28 L112.16,307.94 L112.48,309.58 L112.84,311.19 L113.22,312.77 L113.65,314.33 L114.11,315.87 L114.60,317.38 L115.12,318.87 L115.68,320.34 L116.27,321.78 L116.89,323.20 L117.55,324.60 L118.23,325.97 L118.94,327.32 L119.68,328.65 L120.45,329.95 L121.24,331.23 L122.07,332.49 L122.92,333.73 L123.79,334.94 L124.69,336.13 L125.62,337.30 L126.57,338.45 L127.54,339.57 L128.53,340.68 L129.55,341.76 L130.59,342.82 L131.65,343.86 L132.73,344.87 L133.82,345.87 L134.94,346.85 L136.08,347.80 L137.23,348.73 L138.40,349.64 L139.59,350.54 L140.79,351.41 L142.01,352.26 L143.25,353.09 L144.49,353.90 L145.75,354.69 L147.03,355.46 L148.31,356.21 L149.61,356.94 L150.92,357.65 L152.24,358.34 L153.57,359.02 L154.92,359.68 L156.27,360.32 L157.63,360.94 L159.01,361.55 L160.39,362.14 L161.78,362.71 L163.18,363.27 L164.59,363.81 L166.01,364.34 L167.43,364.86 L168.86,365.36 L170.30,365.85 L171.75,366.32 L173.20,366.78 L174.66,367.23 L176.12,367.67 L177.59,368.09 L179.07,368.51 L180.54,368.91 L182.03,369.30 L183.52,369.69 L185.01,370.06 L186.50,370.42 L188.00,370.78 L189.50,371.12 L191.00,371.46 L192.51,371.79 L194.02,372.11 L195.53,372.43 L197.04,372.73 L198.55,373.04 L200.06,373.33 L201.57,373.62 L203.08,373.91 L204.59,374.19 L206.10,374.47 L207.61,374.74 L209.11,375.00 L210.62,375.27 L212.13,375.52 L213.64,375.78 L215.14,376.02 L216.65,376.27 L218.15,376.50 L219.66,376.74 L221.16,376.96 L222.66,377.19 L224.17,377.40 L225.67,377.62 L227.17,377.82 L228.68,378.03 L230.18,378.22 L231.68,378.42 L233.18,378.60 L234.68,378.78 L236.19,378.96 L237.69,379.13 L239.19,379.30 L240.69,379.46 L242.19,379.61 L243.69,379.76 L245.19,379.90 L246.69,380.04 L248.19,380.18 L249.70,380.30 L251.20,380.42 L252.70,380.54 L254.20,380.65 L255.70,380.75 L257.20,380.85 L258.71,380.94 L260.21,381.03 L261.71,381.11 L263.22,381.19 L264.72,381.26 L266.22,381.32 L267.73,381.38 L269.23,381.43 L270.74,381.47 L272.24,381.51 L273.75,381.55 L275.26,381.57 L276.76,381.59 L278.27,381.61 L279.78,381.62 L281.29,381.62 L282.80,381.61 L284.31,381.60 L285.82,381.59 L287.33,381.56 L288.85,381.53 L290.36,381.50 L291.88,381.45 L293.39,381.41 L294.91,381.35 L296.42,381.29 L297.94,381.22 L299.46,381.14 L300.98,381.06 L302.50,380.97 L304.02,380.87 L305.55,380.77 L307.07,380.66" fill="none" stroke="#c40000" stroke-width="4.0" stroke-linecap="round" stroke-linejoin="round" stroke-dasharray="11.4,16.9,0.01,17.3" stroke-dashoffset="0"/>
<path d="M316,372.5 L328,371 L321.2,380.7 Z" fill="#c40000" stroke="#c40000" stroke-width="0.8" stroke-linejoin="round"/>
<circle cx="107.55" cy="294.8" r="6.0" fill="#c40000"/>
<path d="M365.55,350.35 L366.59,351.63 L367.64,352.87 L368.71,354.07 L369.80,355.22 L370.90,356.34 L372.03,357.42 L373.17,358.46 L374.33,359.46 L375.50,360.43 L376.70,361.36 L377.90,362.26 L379.12,363.12 L380.36,363.95 L381.61,364.74 L382.87,365.51 L384.15,366.24 L385.44,366.94 L386.74,367.62 L388.06,368.26 L389.38,368.87 L390.72,369.46 L392.07,370.02 L393.43,370.55 L394.80,371.06 L396.18,371.54 L397.57,372.00 L398.97,372.44 L400.37,372.85 L401.79,373.24 L403.21,373.61 L404.64,373.96 L406.08,374.29 L407.52,374.60 L408.97,374.89 L410.42,375.16 L411.88,375.42 L413.34,375.66 L414.81,375.89 L416.29,376.10 L417.76,376.29 L419.24,376.47 L420.73,376.64 L422.21,376.80 L423.71,376.94 L425.20,377.07 L426.70,377.18 L428.20,377.29 L429.70,377.38 L431.21,377.46 L432.72,377.53 L434.23,377.59 L435.75,377.64 L437.27,377.67 L438.79,377.70 L440.31,377.72 L441.84,377.73 L443.36,377.73 L444.89,377.72 L446.43,377.71 L447.96,377.68 L449.50,377.65 L451.04,377.61 L452.58,377.56 L454.12,377.51 L455.66,377.45 L457.20,377.39 L458.75,377.32 L460.30,377.24 L461.85,377.16 L463.40,377.07 L464.95,376.98 L466.50,376.89 L468.05,376.79 L469.60,376.69 L471.16,376.58 L472.71,376.48 L474.27,376.37 L475.82,376.25 L477.38,376.14 L478.93,376.02 L480.49,375.91 L482.04,375.79 L483.60,375.66 L485.15,375.53 L486.71,375.40 L488.26,375.27 L489.81,375.13 L491.36,374.98 L492.91,374.83 L494.45,374.68 L495.99,374.51 L497.54,374.34 L499.07,374.17 L500.61,373.99 L502.14,373.80 L503.67,373.60 L505.19,373.39 L506.72,373.18 L508.23,372.95 L509.75,372.72 L511.26,372.48 L512.76,372.22 L514.26,371.96 L515.75,371.68 L517.24,371.40 L518.73,371.10 L520.21,370.79 L521.68,370.47 L523.14,370.14 L524.60,369.79 L526.06,369.43 L527.50,369.05 L528.94,368.66 L530.38,368.26 L531.80,367.84 L533.22,367.41 L534.63,366.96 L536.03,366.49 L537.42,366.01 L538.81,365.51 L540.19,365.00 L541.55,364.46 L542.91,363.91 L544.26,363.34 L545.60,362.75 L546.93,362.15 L548.25,361.52 L549.56,360.87 L550.86,360.21 L552.15,359.52 L553.43,358.81 L554.69,358.09 L555.95,357.34 L557.19,356.56 L558.43,355.77 L559.65,354.95 L560.86,354.11 L562.05,353.25 L563.24,352.36 L564.41,351.45 L565.57,350.51 L566.71,349.55 L567.84,348.57 L568.96,347.55 L570.07,346.52 L571.16,345.45 L572.23,344.36 L573.29,343.24 L574.34,342.10 L575.37,340.93 L576.39,339.72 L577.39,338.49 L578.38,337.23 L579.35,335.95 L580.30,334.63 L581.24,333.28 L582.16,331.90" fill="none" stroke="#c40000" stroke-width="4.0" stroke-linecap="round" stroke-linejoin="round" stroke-dasharray="11.4,16.9,0.01,17.3" stroke-dashoffset="2"/>
<path d="M578,323.2 L587,315 L587.7,327.7 Z" fill="#c40000" stroke="#c40000" stroke-width="0.8" stroke-linejoin="round"/>
<circle cx="366.2" cy="350" r="6.0" fill="#c40000"/>
<path d="M624.50,294.25 L624.92,295.45 L625.35,296.65 L625.77,297.85 L626.20,299.05 L626.62,300.25 L627.05,301.45 L627.48,302.65 L627.90,303.85 L628.33,305.05 L628.52,305.83 L628.84,307.52 L629.20,309.17 L629.58,310.80 L630.00,312.40 L630.45,313.97 L630.93,315.52 L631.44,317.04 L631.99,318.53 L632.56,320.00 L633.16,321.44 L633.79,322.86 L634.45,324.25 L635.14,325.62 L635.85,326.96 L636.59,328.28 L637.36,329.57 L638.15,330.84 L638.97,332.09 L639.81,333.31 L640.68,334.51 L641.57,335.68 L642.49,336.84 L643.43,337.97 L644.39,339.08 L645.37,340.16 L646.38,341.23 L647.40,342.27 L648.45,343.29 L649.52,344.29 L650.60,345.28 L651.71,346.24 L652.83,347.18 L653.98,348.10 L655.14,349.00 L656.32,349.88 L657.51,350.74 L658.72,351.58 L659.95,352.41 L661.19,353.21 L662.45,354.00 L663.72,354.77 L665.00,355.52 L666.30,356.26 L667.61,356.98 L668.94,357.68 L670.27,358.36 L671.62,359.03 L672.98,359.68 L674.35,360.32 L675.73,360.94 L677.12,361.54 L678.52,362.13 L679.92,362.71 L681.34,363.27 L682.76,363.81 L684.19,364.34 L685.63,364.86 L687.07,365.36 L688.52,365.85 L689.97,366.33 L691.43,366.80 L692.89,367.25 L694.36,367.69 L695.83,368.12 L697.31,368.53 L698.79,368.94 L700.27,369.33 L701.76,369.71 L703.25,370.08 L704.75,370.44 L706.24,370.79 L707.74,371.14 L709.25,371.47 L710.75,371.79 L712.26,372.10 L713.77,372.41 L715.28,372.70 L716.79,372.99 L718.31,373.27 L719.82,373.55 L721.34,373.81 L722.86,374.07 L724.38,374.32 L725.90,374.57 L727.42,374.81 L728.94,375.04 L730.46,375.27 L731.98,375.49 L733.50,375.70 L735.02,375.92 L736.53,376.12 L738.05,376.33 L739.57,376.53 L741.08,376.72 L742.60,376.91 L744.11,377.10 L745.62,377.29 L747.13,377.47 L748.64,377.65 L750.14,377.83 L751.64,378.01 L753.14,378.19 L754.64,378.36 L756.13,378.54 L757.62,378.71 L759.11,378.88 L760.59,379.05 L762.07,379.23 L763.54,379.40 L765.01,379.57 L766.48,379.75 L767.94,379.93 L769.40,380.10 L770.85,380.28 L772.29,380.46 L773.74,380.65 L775.17,380.84 L776.60,381.03 L778.03,381.22" fill="none" stroke="#c40000" stroke-width="4.0" stroke-linecap="round" stroke-linejoin="round" stroke-dasharray="11.4,16.9,0.01,17.3" stroke-dashoffset="0"/>
<path d="M786,377.1 L795.6,381.9 L786,385.7 Z" fill="#c40000" stroke="#c40000" stroke-width="0.8" stroke-linejoin="round"/>
<circle cx="624.5" cy="294.25" r="6.0" fill="#c40000"/>
<path d="M107.55,324.60 L108.78,327.24 L110.02,329.88 L111.25,332.52 L112.49,335.16 L113.72,337.80 L114.96,340.44 L116.20,343.08 L117.43,345.72 L118.67,348.36 L119.87,351.00 L120.92,352.19 L122.00,353.35 L123.09,354.47 L124.21,355.56 L125.36,356.61 L126.52,357.64 L127.70,358.64 L128.91,359.60 L130.13,360.53 L131.37,361.44 L132.63,362.31 L133.91,363.16 L135.20,363.98 L136.51,364.77 L137.84,365.54 L139.18,366.28 L140.54,366.99 L141.92,367.68 L143.30,368.34 L144.70,368.98 L146.11,369.59 L147.54,370.18 L148.97,370.75 L150.42,371.30 L151.88,371.82 L153.35,372.33 L154.82,372.81 L156.31,373.27 L157.80,373.72 L159.31,374.14 L160.81,374.55 L162.33,374.93 L163.85,375.30 L165.38,375.66 L166.91,375.99 L168.45,376.32 L169.99,376.62 L171.53,376.91 L173.08,377.19 L174.62,377.45 L176.17,377.70 L177.72,377.94 L179.27,378.16 L180.82,378.37 L182.37,378.57 L183.92,378.76 L185.47,378.94 L187.01,379.11 L188.56,379.28 L190.09,379.43 L191.63,379.57 L193.16,379.71 L194.68,379.84 L196.20,379.96 L197.71,380.08 L199.22,380.19 L200.72,380.30 L202.21,380.40 L203.69,380.50" fill="none" stroke="#00ad4f" stroke-width="4.3" stroke-linecap="round" stroke-linejoin="round" stroke-dasharray="28.3,17" stroke-dashoffset="-1"/>
<path d="M217.7,374.5 L229.2,374.5 L221.7,383.5 Z" fill="#00ad4f" stroke="#00ad4f" stroke-width="0.8" stroke-linejoin="round"/>
<circle cx="107.55" cy="324.6" r="6.0" fill="#00ad4f"/>
<path d="M267.50,349.00 L268.09,349.75 L268.68,350.50 L269.27,351.25 L269.86,352.00 L270.45,352.75 L271.04,353.50 L271.63,354.25 L272.22,355.00 L272.81,355.75 L273.32,356.63 L274.39,357.79 L275.48,358.91 L276.60,359.99 L277.74,361.04 L278.89,362.05 L280.07,363.02 L281.28,363.95 L282.50,364.85 L283.74,365.71 L284.99,366.54 L286.27,367.33 L287.57,368.09 L288.88,368.81 L290.20,369.50 L291.55,370.15 L292.91,370.78 L294.28,371.37 L295.67,371.93 L297.07,372.45 L298.48,372.95 L299.91,373.42 L301.35,373.85 L302.80,374.25 L304.26,374.63 L305.73,374.98 L307.21,375.29 L308.70,375.58 L310.20,375.84 L311.71,376.07 L313.22,376.28 L314.74,376.46 L316.27,376.61 L317.80,376.74 L319.34,376.84 L320.88,376.92 L322.42,376.97 L323.97,376.99 L325.53,377.00 L327.08,376.98 L328.64,376.93 L330.19,376.87 L331.75,376.78 L333.31,376.67 L334.87,376.54 L336.42,376.38 L337.98,376.21 L339.53,376.02 L341.08,375.80 L342.63,375.57 L344.17,375.32 L345.71,375.05 L347.24,374.76 L348.77,374.45 L350.29,374.13 L351.80,373.79 L353.31,373.43 L354.81,373.06 L356.30,372.67 L357.78,372.26 L359.25,371.84 L360.72,371.41 L362.17,370.96 L363.61,370.50 L365.04,370.02 L366.45,369.53 L367.85,369.03 L369.24,368.52 L370.62,368.00 L371.98,367.46 L373.32,366.91 L374.65,366.36 L375.97,365.79" fill="none" stroke="#00ad4f" stroke-width="4.3" stroke-linecap="round" stroke-linejoin="round" stroke-dasharray="28.3,17" stroke-dashoffset="-1"/>
<path d="M379,354.5 L390.2,350 L387.2,362 Z" fill="#00ad4f" stroke="#00ad4f" stroke-width="0.8" stroke-linejoin="round"/>
<circle cx="267.5" cy="349" r="6.0" fill="#00ad4f"/>
<path d="M427.50,324.30 L428.77,326.97 L430.04,329.64 L431.31,332.31 L432.58,334.98 L433.85,337.65 L435.12,340.32 L436.39,342.99 L437.66,345.66 L438.93,348.33 L440.13,351.03 L441.18,352.21 L442.25,353.36 L443.34,354.47 L444.45,355.55 L445.59,356.60 L446.74,357.61 L447.92,358.60 L449.11,359.55 L450.33,360.47 L451.56,361.36 L452.81,362.22 L454.07,363.06 L455.36,363.86 L456.66,364.64 L457.97,365.39 L459.31,366.11 L460.65,366.81 L462.01,367.48 L463.38,368.13 L464.77,368.75 L466.17,369.35 L467.58,369.92 L469.00,370.48 L470.43,371.01 L471.87,371.52 L473.32,372.01 L474.79,372.48 L476.25,372.93 L477.73,373.36 L479.22,373.77 L480.71,374.16 L482.21,374.54 L483.71,374.90 L485.22,375.24 L486.74,375.57 L488.26,375.88 L489.78,376.18 L491.30,376.47 L492.83,376.74 L494.36,377.00 L495.89,377.24 L497.43,377.48 L498.96,377.70 L500.49,377.91 L502.03,378.12 L503.56,378.31 L505.09,378.50 L506.61,378.68 L508.14,378.85 L509.66,379.01 L511.18,379.17 L512.69,379.32 L514.20,379.46 L515.70,379.60 L517.20,379.74 L518.69,379.87 L520.17,380.00 L521.64,380.13 L523.11,380.26" fill="none" stroke="#00ad4f" stroke-width="4.3" stroke-linecap="round" stroke-linejoin="round" stroke-dasharray="28.3,17" stroke-dashoffset="-1"/>
<path d="M537.5,374.2 L549.5,374.2 L542.3,383.2 Z" fill="#00ad4f" stroke="#00ad4f" stroke-width="0.8" stroke-linejoin="round"/>
<circle cx="427.5" cy="324.3" r="6.0" fill="#00ad4f"/>
<path d="M587.70,348.70 L589.73,350.73 L591.76,352.76 L593.79,354.79 L595.82,356.82 L597.85,358.85 L599.88,360.88 L601.91,362.91 L603.94,364.94 L605.97,366.97 L608.00,369.02 L609.45,369.55 L610.90,370.07 L612.36,370.57 L613.83,371.05 L615.30,371.51 L616.78,371.95 L618.27,372.37 L619.77,372.78 L621.27,373.16 L622.78,373.53 L624.29,373.87 L625.80,374.19 L627.32,374.50 L628.85,374.78 L630.38,375.05 L631.91,375.29 L633.45,375.51 L634.98,375.72 L636.53,375.90 L638.07,376.06 L639.61,376.20 L641.16,376.33 L642.71,376.42 L644.26,376.50 L645.81,376.56 L647.36,376.60 L648.91,376.61 L650.46,376.61 L652.02,376.58 L653.56,376.53 L655.11,376.46 L656.66,376.36 L658.20,376.25 L659.75,376.11 L661.29,375.95 L662.83,375.77 L664.36,375.56 L665.89,375.34 L667.42,375.09 L668.94,374.82 L670.46,374.52 L671.98,374.20 L673.49,373.86 L674.99,373.50 L676.49,373.11 L677.98,372.70 L679.47,372.27 L680.95,371.81 L682.42,371.33 L683.89,370.83 L685.34,370.30 L686.79,369.75 L688.24,369.17 L689.67,368.57 L691.10,367.95 L692.51,367.30 L693.92,366.63 L695.31,365.93 L696.70,365.21" fill="none" stroke="#00ad4f" stroke-width="4.3" stroke-linecap="round" stroke-linejoin="round" stroke-dasharray="28.3,17" stroke-dashoffset="-1"/>
<path d="M699.7,355.5 L710.2,350.2 L706.4,360.7 Z" fill="#00ad4f" stroke="#00ad4f" stroke-width="0.8" stroke-linejoin="round"/>
<circle cx="587.7" cy="348.7" r="6.0" fill="#00ad4f"/>
<path d="M746.80,324.50 L748.14,327.08 L749.48,329.66 L750.82,332.24 L752.16,334.82 L753.50,337.40 L754.84,339.98 L756.18,342.56 L757.52,345.14 L758.86,347.72 L760.20,350.30 L761.22,351.59 L762.27,352.84 L763.35,354.05 L764.46,355.22 L765.59,356.35 L766.76,357.44 L767.95,358.49 L769.17,359.50 L770.42,360.47 L771.69,361.40 L773.00,362.29 L774.33,363.14 L775.69,363.95 L777.08,364.72 L778.49,365.45 L779.94,366.14 L781.41,366.79 L782.91,367.40 L784.44,367.97 L786.00,368.50" fill="none" stroke="#00ad4f" stroke-width="4.3" stroke-linecap="round" stroke-linejoin="round" stroke-dasharray="28.3,17" stroke-dashoffset="-1"/>
<path d="M784.1,363.7 L795.6,372.3 L786,374.2 Z" fill="#00ad4f" stroke="#00ad4f" stroke-width="0.8" stroke-linejoin="round"/>
<circle cx="746.8" cy="324.5" r="6.0" fill="#00ad4f"/>
<text x="79.50" y="254.90" text-anchor="end" font-size="18">1000</text>
<text x="79.50" y="287.40" text-anchor="end" font-size="18">800</text>
<text x="79.50" y="319.90" text-anchor="end" font-size="18">600</text>
<text x="79.50" y="352.40" text-anchor="end" font-size="18">400</text>
<text x="79.50" y="384.90" text-anchor="end" font-size="18">200</text>
<text x="79.50" y="417.40" text-anchor="end" font-size="18">0</text>
<text x="95.50" y="438.20" text-anchor="middle" font-size="18">0</text>
<text x="157.00" y="438.20" text-anchor="middle" font-size="18">0.5</text>
<text x="218.50" y="438.20" text-anchor="middle" font-size="18">1</text>
<text x="280.00" y="438.20" text-anchor="middle" font-size="18">1.5</text>
<text x="341.50" y="438.20" text-anchor="middle" font-size="18">2</text>
<text x="403.00" y="438.20" text-anchor="middle" font-size="18">2.5</text>
<text x="464.50" y="438.20" text-anchor="middle" font-size="18">3</text>
<text x="526.00" y="438.20" text-anchor="middle" font-size="18">3.5</text>
<text x="587.50" y="438.20" text-anchor="middle" font-size="18">4</text>
<text x="649.00" y="438.20" text-anchor="middle" font-size="18">4.5</text>
<text x="710.50" y="438.20" text-anchor="middle" font-size="18">5</text>
<text x="772.00" y="438.20" text-anchor="middle" font-size="18">5.5</text>
<text transform="translate(17,328.5) rotate(-90)" text-anchor="middle" font-size="20" font-weight="bold">Robot Velocity</text>
<text transform="translate(40,328.5) rotate(-90)" text-anchor="middle" font-size="19.5" font-weight="bold">[mm/s]</text>
<line x1="96.30" y1="445.89" x2="792.50" y2="445.89" stroke="#d9d9d9" stroke-width="1.2"/>
<line x1="96.30" y1="484.54" x2="792.50" y2="484.54" stroke="#d9d9d9" stroke-width="1.2"/>
<line x1="96.30" y1="523.20" x2="792.50" y2="523.20" stroke="#d9d9d9" stroke-width="1.2"/>
<line x1="96.30" y1="561.85" x2="792.50" y2="561.85" stroke="#d9d9d9" stroke-width="1.2"/>
<line x1="96.30" y1="600.50" x2="792.50" y2="600.50" stroke="#d9d9d9" stroke-width="1.2"/>
<line x1="96.30" y1="445.89" x2="96.30" y2="600.50" stroke="#d9d9d9" stroke-width="1.2"/>
<line x1="157.40" y1="445.89" x2="157.40" y2="600.50" stroke="#d9d9d9" stroke-width="1.2"/>
<line x1="218.50" y1="445.89" x2="218.50" y2="600.50" stroke="#d9d9d9" stroke-width="1.2"/>
<line x1="279.60" y1="445.89" x2="279.60" y2="600.50" stroke="#d9d9d9" stroke-width="1.2"/>
<line x1="340.70" y1="445.89" x2="340.70" y2="600.50" stroke="#d9d9d9" stroke-width="1.2"/>
<line x1="401.80" y1="445.89" x2="401.80" y2="600.50" stroke="#d9d9d9" stroke-width="1.2"/>
<line x1="462.90" y1="445.89" x2="462.90" y2="600.50" stroke="#d9d9d9" stroke-width="1.2"/>
<line x1="524.00" y1="445.89" x2="524.00" y2="600.50" stroke="#d9d9d9" stroke-width="1.2"/>
<line x1="585.10" y1="445.89" x2="585.10" y2="600.50" stroke="#d9d9d9" stroke-width="1.2"/>
<line x1="646.20" y1="445.89" x2="646.20" y2="600.50" stroke="#d9d9d9" stroke-width="1.2"/>
<line x1="707.30" y1="445.89" x2="707.30" y2="600.50" stroke="#d9d9d9" stroke-width="1.2"/>
<line x1="768.40" y1="445.89" x2="768.40" y2="600.50" stroke="#d9d9d9" stroke-width="1.2"/>
<path d="M96.30,445.89 V600.50 H792.50" fill="none" stroke="#000" stroke-width="2.5"/>
<line x1="96.30" y1="445.89" x2="101.80" y2="445.89" stroke="#000" stroke-width="2.5"/>
<line x1="96.30" y1="484.54" x2="101.80" y2="484.54" stroke="#000" stroke-width="2.5"/>
<line x1="96.30" y1="523.20" x2="101.80" y2="523.20" stroke="#000" stroke-width="2.5"/>
<line x1="96.30" y1="561.85" x2="101.80" y2="561.85" stroke="#000" stroke-width="2.5"/>
<line x1="96.30" y1="600.50" x2="101.80" y2="600.50" stroke="#000" stroke-width="2.5"/>
<line x1="96.30" y1="600.50" x2="96.30" y2="595.00" stroke="#000" stroke-width="2.5"/>
<line x1="157.40" y1="600.50" x2="157.40" y2="595.00" stroke="#000" stroke-width="2.5"/>
<line x1="218.50" y1="600.50" x2="218.50" y2="595.00" stroke="#000" stroke-width="2.5"/>
<line x1="279.60" y1="600.50" x2="279.60" y2="595.00" stroke="#000" stroke-width="2.5"/>
<line x1="340.70" y1="600.50" x2="340.70" y2="595.00" stroke="#000" stroke-width="2.5"/>
<line x1="401.80" y1="600.50" x2="401.80" y2="595.00" stroke="#000" stroke-width="2.5"/>
<line x1="462.90" y1="600.50" x2="462.90" y2="595.00" stroke="#000" stroke-width="2.5"/>
<line x1="524.00" y1="600.50" x2="524.00" y2="595.00" stroke="#000" stroke-width="2.5"/>
<line x1="585.10" y1="600.50" x2="585.10" y2="595.00" stroke="#000" stroke-width="2.5"/>
<line x1="646.20" y1="600.50" x2="646.20" y2="595.00" stroke="#000" stroke-width="2.5"/>
<line x1="707.30" y1="600.50" x2="707.30" y2="595.00" stroke="#000" stroke-width="2.5"/>
<line x1="768.40" y1="600.50" x2="768.40" y2="595.00" stroke="#000" stroke-width="2.5"/>
<path d="M94.6,587.8 L101,590.5 L104.5,588.3 L108.5,589 L103,598.5 L94.6,600 Z" fill="#c40000"/>
<path d="M107.28,590.58 L108.67,589.98 L110.07,589.38 L111.47,588.79 L112.88,588.20 L114.28,587.62 L115.68,587.05 L117.09,586.48 L118.50,585.92 L119.91,585.36 L121.32,584.80 L122.73,584.25 L124.14,583.71 L125.56,583.17 L126.97,582.63 L128.39,582.10 L129.81,581.57 L131.23,581.05 L132.65,580.54 L134.07,580.02 L135.49,579.52 L136.92,579.01 L138.35,578.52 L139.77,578.02 L141.20,577.53 L142.63,577.05 L144.06,576.57 L145.49,576.09 L146.93,575.62 L148.36,575.15 L149.80,574.69 L151.23,574.23 L152.67,573.78 L154.11,573.33 L155.55,572.88 L156.99,572.44 L158.44,572.00 L159.88,571.57 L161.32,571.14 L162.77,570.71 L164.22,570.29 L165.67,569.87 L167.11,569.46 L168.56,569.05 L170.02,568.64 L171.47,568.24 L172.92,567.84 L174.37,567.44 L175.83,567.05 L177.29,566.66 L178.74,566.28 L180.20,565.90 L181.66,565.52 L183.12,565.15 L184.58,564.78 L186.04,564.41 L187.51,564.05 L188.97,563.69 L190.43,563.33 L191.90,562.98 L193.36,562.63 L194.83,562.28 L196.30,561.94 L197.77,561.60 L199.24,561.26 L200.71,560.93 L202.18,560.60 L203.65,560.27 L205.12,559.95 L206.60,559.63 L208.07,559.31 L209.55,558.99 L211.02,558.68 L212.50,558.37 L213.98,558.06 L215.45,557.76 L216.93,557.46 L218.41,557.16 L219.89,556.86 L221.37,556.57 L222.86,556.28 L224.34,555.99 L225.82,555.71 L227.30,555.42 L228.79,555.14 L230.27,554.87 L231.76,554.59 L233.24,554.32 L234.73,554.05 L236.22,553.78 L237.70,553.51 L239.19,553.25 L240.68,552.99 L242.17,552.73 L243.66,552.47 L245.15,552.22 L246.64,551.97 L248.13,551.72 L249.62,551.47 L251.11,551.22 L252.61,550.98 L254.10,550.73 L255.59,550.49 L257.09,550.25 L258.58,550.02 L260.08,549.78 L261.57,549.55 L263.07,549.32 L264.56,549.09 L266.06,548.86 L267.56,548.64 L269.05,548.41 L270.55,548.19 L272.05,547.97 L273.54,547.75 L275.04,547.53 L276.54,547.31 L278.04,547.10 L279.54,546.88 L281.04,546.67 L282.54,546.46 L284.04,546.25 L285.54,546.04 L287.04,545.83 L288.54,545.62 L290.04,545.42 L291.54,545.22 L293.04,545.01 L294.54,544.81 L296.04,544.61 L297.55,544.41 L299.05,544.21 L300.55,544.01 L302.05,543.82 L303.55,543.62 L305.06,543.43 L306.56,543.23 L308.06,543.04 L309.56,542.84 L311.07,542.65 L312.57,542.46 L314.07,542.27 L315.57,542.08 L317.08,541.89 L318.58,541.70 L320.08,541.51 L321.58,541.32 L323.09,541.14 L324.59,540.95 L326.09,540.76 L327.59,540.58 L329.10,540.39 L330.60,540.20 L332.10,540.02 L333.60,539.83 L335.11,539.65 L336.61,539.46 L338.11,539.28 L339.61,539.09 L341.11,538.91 L342.62,538.73 L344.12,538.54 L345.62,538.36 L347.12,538.17 L348.62,537.99 L350.12,537.80 L351.62,537.62 L353.12,537.43 L354.62,537.25 L356.12,537.06 L357.62,536.87 L359.12,536.69 L360.62,536.50 L362.12,536.31 L363.61,536.13 L365.11,535.94 L366.61,535.75 L368.11,535.56 L369.60,535.37 L371.10,535.18 L372.60,534.99 L374.09,534.80 L375.59,534.61 L377.08,534.41 L378.58,534.22 L380.07,534.03 L381.57,533.83 L383.06,533.63 L384.55,533.44 L386.05,533.24 L387.54,533.04 L389.03,532.84 L390.52,532.64 L392.01,532.44 L393.50,532.23 L394.99,532.03 L396.48,531.82 L397.97,531.62 L399.46,531.41 L400.95,531.20 L402.43,530.99 L403.92,530.78 L405.41,530.57 L406.89,530.35 L408.38,530.14 L409.86,529.92" fill="none" stroke="#0aacec" stroke-width="3.8" stroke-linecap="round" stroke-linejoin="round" stroke-dasharray="8.8,7.6" stroke-dashoffset="0"/>
<path d="M413,525 L425,528 L416,534 Z" fill="#0aacec" stroke="#0aacec" stroke-width="0.8" stroke-linejoin="round"/>
<circle cx="107.5" cy="591" r="5.2" fill="#0aacec"/>
<path d="M462.48,524.41 L463.95,524.10 L465.42,523.80 L466.90,523.50 L468.37,523.20 L469.85,522.91 L471.32,522.61 L472.80,522.32 L474.27,522.04 L475.75,521.75 L477.23,521.47 L478.71,521.19 L480.19,520.91 L481.67,520.63 L483.15,520.35 L484.63,520.08 L486.11,519.81 L487.59,519.54 L489.07,519.27 L490.56,519.01 L492.04,518.75 L493.52,518.48 L495.01,518.22 L496.49,517.97 L497.98,517.71 L499.47,517.46 L500.95,517.20 L502.44,516.95 L503.93,516.70 L505.41,516.45 L506.90,516.21 L508.39,515.96 L509.88,515.72 L511.37,515.48 L512.86,515.24 L514.35,515.00 L515.84,514.76 L517.33,514.52 L518.82,514.29 L520.31,514.05 L521.80,513.82 L523.30,513.58 L524.79,513.35 L526.28,513.12 L527.77,512.89 L529.27,512.67 L530.76,512.44 L532.26,512.21 L533.75,511.99 L535.24,511.76 L536.74,511.54 L538.23,511.31 L539.73,511.09 L541.22,510.87 L542.72,510.65 L544.21,510.43 L545.71,510.21 L547.21,509.99 L548.70,509.77 L550.20,509.55 L551.70,509.33 L553.19,509.12 L554.69,508.90 L556.19,508.68 L557.68,508.47 L559.18,508.25 L560.68,508.03 L562.17,507.82 L563.67,507.60 L565.17,507.39 L566.67,507.17 L568.16,506.96 L569.66,506.74 L571.16,506.53 L572.66,506.31 L574.16,506.09 L575.65,505.88 L577.15,505.66 L578.65,505.45 L580.15,505.23 L581.64,505.01 L583.14,504.80 L584.64,504.58 L586.14,504.36 L587.63,504.14 L589.13,503.92 L590.63,503.71 L592.12,503.49 L593.62,503.27 L595.12,503.04 L596.62,502.82 L598.11,502.60 L599.61,502.38 L601.10,502.16 L602.60,501.93 L604.10,501.71 L605.59,501.48 L607.09,501.25 L608.58,501.03 L610.08,500.80 L611.57,500.57 L613.07,500.34 L614.56,500.10 L616.06,499.87 L617.55,499.64 L619.05,499.40 L620.54,499.17 L622.03,498.93 L623.53,498.69 L625.02,498.45 L626.51,498.21 L628.00,497.97 L629.49,497.72 L630.99,497.48 L632.48,497.23 L633.97,496.98 L635.46,496.73 L636.95,496.48 L638.44,496.22 L639.93,495.97 L641.41,495.71 L642.90,495.45 L644.39,495.19 L645.88,494.93 L647.37,494.67 L648.85,494.40 L650.34,494.13 L651.82,493.86 L653.31,493.59 L654.79,493.32 L656.28,493.04 L657.76,492.76 L659.25,492.48 L660.73,492.20 L662.21,491.92 L663.69,491.63 L665.17,491.34 L666.65,491.05 L668.13,490.76 L669.61,490.46 L671.09,490.16 L672.57,489.86 L674.05,489.56 L675.53,489.25 L677.00,488.95 L678.48,488.63 L679.95,488.32 L681.43,488.00 L682.90,487.69 L684.38,487.36 L685.85,487.04 L687.32,486.71 L688.79,486.38 L690.26,486.05 L691.73,485.71 L693.20,485.37 L694.67,485.03 L696.14,484.69 L697.61,484.34 L699.07,483.99 L700.54,483.64 L702.00,483.28 L703.47,482.92 L704.93,482.55 L706.39,482.19 L707.85,481.82 L709.31,481.44 L710.77,481.07 L712.23,480.69 L713.69,480.30 L715.15,479.92 L716.60,479.52 L718.06,479.13 L719.52,478.73 L720.97,478.33 L722.42,477.93 L723.87,477.52 L725.33,477.10 L726.78,476.69 L728.23,476.27 L729.67,475.84 L731.12,475.42 L732.57,474.98 L734.01,474.55 L735.46,474.11 L736.90,473.66 L738.34,473.22 L739.79,472.76 L741.23,472.31 L742.67,471.85 L744.10,471.38 L745.54,470.92 L746.98,470.44 L748.41,469.97 L749.85,469.48 L751.28,469.00 L752.71,468.51 L754.14,468.01 L755.57,467.51 L757.00,467.01 L758.43,466.50 L759.86,465.99 L761.28,465.47 L762.71,464.95 L764.13,464.42 L765.55,463.89 L766.97,463.36 L768.39,462.81 L769.81,462.27 L771.23,461.72 L772.64,461.16 L774.06,460.60" fill="none" stroke="#0aacec" stroke-width="3.8" stroke-linecap="round" stroke-linejoin="round" stroke-dasharray="8.8,7.6" stroke-dashoffset="0"/>
<path d="M771,452 L781,455 L774,463 Z" fill="#0aacec" stroke="#0aacec" stroke-width="0.8" stroke-linejoin="round"/>
<circle cx="462.4" cy="524.4" r="6.0" fill="#0aacec"/>
<path d="M101.00,593.00 L103.16,592.12 L105.32,591.25 L107.48,590.38 L109.64,589.50 L111.80,588.62 L113.96,587.75 L116.12,586.88 L118.28,586.00 L120.44,585.12 L122.60,584.33 L124.08,583.91 L125.55,583.51 L127.02,583.10 L128.50,582.71 L129.97,582.31 L131.45,581.92 L132.92,581.53 L134.40,581.15 L135.88,580.78 L137.36,580.40 L138.84,580.03 L140.32,579.67 L141.80,579.30 L143.28,578.95 L144.76,578.59 L146.25,578.24 L147.73,577.90 L149.22,577.55 L150.70,577.21 L152.19,576.88 L153.67,576.54 L155.16,576.22 L156.65,575.89 L158.14,575.57 L159.63,575.25 L161.12,574.93 L162.61,574.62 L164.10,574.31 L165.59,574.00 L167.08,573.70 L168.58,573.40 L170.07,573.10 L171.56,572.81 L173.06,572.52 L174.55,572.23 L176.05,571.94 L177.54,571.66 L179.04,571.38 L180.54,571.10 L182.03,570.83 L183.53,570.55 L185.03,570.28 L186.53,570.02 L188.03,569.75 L189.53,569.49 L191.03,569.23 L192.53,568.97 L194.03,568.71 L195.53,568.46 L197.03,568.20 L198.53,567.95 L200.03,567.70 L201.53,567.46 L203.04,567.21 L204.54,566.97 L206.04,566.73 L207.55,566.49 L209.05,566.25 L210.56,566.02 L212.06,565.78 L213.57,565.55 L215.07,565.32 L216.58,565.09 L218.08,564.86 L219.59,564.63 L221.09,564.40 L222.60,564.18 L224.11,563.96 L225.61,563.73 L227.12,563.51 L228.63,563.29 L230.13,563.07 L231.64,562.85 L233.15,562.64 L234.66,562.42 L236.16,562.20 L237.67,561.99 L239.18,561.77 L240.69,561.56 L242.20,561.35 L243.70,561.13 L245.21,560.92 L246.72,560.71 L248.23,560.50 L249.74,560.29 L251.25,560.08 L252.76,559.86 L254.26,559.65 L255.77,559.44 L257.28,559.23 L258.79,559.02 L260.30,558.81 L261.81,558.60 L263.31,558.39 L264.82,558.18 L266.33,557.97 L267.84,557.76 L269.35,557.55 L270.86,557.34 L272.36,557.13 L273.87,556.91 L275.38,556.70 L276.89,556.49 L278.39,556.27 L279.90,556.06 L281.41,555.84 L282.92,555.63 L284.42,555.41 L285.93,555.19 L287.43,554.97 L288.94,554.75 L290.45,554.53 L291.95,554.31 L293.46,554.09 L294.96,553.86 L296.47,553.64 L297.97,553.41 L299.48,553.18 L300.98,552.96" fill="none" stroke="#c40000" stroke-width="4.0" stroke-linecap="round" stroke-linejoin="round" stroke-dasharray="11.4,16.9,0.01,17.3" stroke-dashoffset="6.5"/>
<path d="M304,548 L315,551 L306,558 Z" fill="#c40000" stroke="#c40000" stroke-width="0.8" stroke-linejoin="round"/>
<path d="M351.95,546.22 L353.43,545.92 L354.91,545.62 L356.39,545.33 L357.87,545.04 L359.35,544.75 L360.83,544.47 L362.32,544.19 L363.80,543.90 L365.28,543.62 L366.77,543.35 L368.25,543.07 L369.74,542.80 L371.22,542.52 L372.71,542.25 L374.20,541.98 L375.68,541.72 L377.17,541.45 L378.66,541.19 L380.15,540.92 L381.63,540.66 L383.12,540.40 L384.61,540.15 L386.10,539.89 L387.59,539.63 L389.08,539.38 L390.57,539.12 L392.06,538.87 L393.55,538.62 L395.04,538.37 L396.53,538.12 L398.02,537.87 L399.51,537.63 L401.01,537.38 L402.50,537.14 L403.99,536.89 L405.48,536.65 L406.97,536.40 L408.47,536.16 L409.96,535.92 L411.45,535.68 L412.95,535.44 L414.44,535.20 L415.93,534.96 L417.42,534.72 L418.92,534.48 L420.41,534.24 L421.90,534.00 L423.40,533.76 L424.89,533.52 L426.39,533.28 L427.88,533.04 L429.37,532.81 L430.87,532.57 L432.36,532.33 L433.85,532.09 L435.35,531.85 L436.84,531.61 L438.33,531.37 L439.83,531.13 L441.32,530.89 L442.81,530.65 L444.31,530.41 L445.80,530.17 L447.29,529.93 L448.78,529.68 L450.28,529.44 L451.77,529.20 L453.26,528.95 L454.75,528.71 L456.25,528.46 L457.74,528.21 L459.23,527.97 L460.72,527.72 L462.21,527.47 L463.70,527.21 L465.19,526.96 L466.68,526.71 L468.17,526.45 L469.66,526.20 L471.15,525.94 L472.64,525.68 L474.13,525.42 L475.62,525.16 L477.11,524.90 L478.59,524.64 L480.08,524.37 L481.57,524.10 L483.06,523.83 L484.54,523.56 L486.03,523.29 L487.51,523.02 L489.00,522.74 L490.48,522.46 L491.97,522.18 L493.45,521.90 L494.93,521.62 L496.42,521.33 L497.90,521.04 L499.38,520.75 L500.86,520.46 L502.34,520.17 L503.82,519.87 L505.30,519.57 L506.78,519.27 L508.26,518.97 L509.74,518.66 L511.22,518.35 L512.70,518.04 L514.17,517.72 L515.65,517.41 L517.12,517.09 L518.60,516.77 L520.07,516.44 L521.54,516.11 L523.02,515.78 L524.49,515.45 L525.96,515.11 L527.43,514.77 L528.90,514.43 L530.37,514.08 L531.84,513.74 L533.31,513.38 L534.77,513.03 L536.24,512.67 L537.71,512.31 L539.17,511.94 L540.63,511.57 L542.10,511.20 L543.56,510.82 L545.02,510.45 L546.48,510.06 L547.94,509.68 L549.40,509.29 L550.86,508.89 L552.32,508.49 L553.77,508.09 L555.23,507.69 L556.68,507.28 L558.14,506.86" fill="none" stroke="#c40000" stroke-width="4.0" stroke-linecap="round" stroke-linejoin="round" stroke-dasharray="11.4,16.9,0.01,17.3" stroke-dashoffset="0"/>
<path d="M560,501 L572,501 L565,510 Z" fill="#c40000" stroke="#c40000" stroke-width="0.8" stroke-linejoin="round"/>
<circle cx="352" cy="546.4" r="6.0" fill="#c40000"/>
<path d="M609.20,493.50 L610.45,493.01 L611.70,492.52 L612.95,492.03 L614.20,491.54 L615.45,491.05 L616.70,490.56 L617.95,490.07 L619.20,489.58 L620.45,489.09 L621.71,488.64 L623.16,488.15 L624.61,487.67 L626.06,487.20 L627.51,486.73 L628.97,486.27 L630.43,485.82 L631.89,485.37 L633.35,484.93 L634.81,484.49 L636.27,484.06 L637.73,483.63 L639.20,483.21 L640.66,482.80 L642.13,482.39 L643.60,481.98 L645.07,481.58 L646.54,481.19 L648.01,480.80 L649.49,480.41 L650.96,480.03 L652.44,479.66 L653.92,479.29 L655.39,478.92 L656.87,478.56 L658.35,478.20 L659.83,477.85 L661.32,477.50 L662.80,477.16 L664.28,476.82 L665.77,476.48 L667.26,476.15 L668.74,475.82 L670.23,475.50 L671.72,475.18 L673.21,474.87 L674.70,474.55 L676.19,474.25 L677.68,473.94 L679.18,473.64 L680.67,473.34 L682.16,473.05 L683.66,472.75 L685.15,472.47 L686.65,472.18 L688.15,471.90 L689.65,471.62 L691.14,471.34 L692.64,471.07 L694.14,470.80 L695.64,470.53 L697.14,470.27 L698.65,470.01 L700.15,469.75 L701.65,469.49 L703.15,469.23 L704.66,468.98 L706.16,468.73 L707.66,468.48 L709.17,468.23 L710.67,467.99 L712.18,467.74 L713.68,467.50 L715.19,467.26 L716.69,467.03 L718.20,466.79 L719.71,466.56 L721.21,466.32 L722.72,466.09 L724.23,465.86 L725.74,465.63 L727.24,465.40 L728.75,465.18 L730.26,464.95 L731.77,464.73 L733.28,464.50 L734.78,464.28 L736.29,464.06 L737.80,463.84 L739.31,463.62 L740.82,463.39 L742.32,463.17 L743.83,462.95 L745.34,462.74 L746.85,462.52 L748.36,462.30 L749.86,462.08 L751.37,461.86 L752.88,461.64 L754.39,461.42" fill="none" stroke="#c40000" stroke-width="4.0" stroke-linecap="round" stroke-linejoin="round" stroke-dasharray="11.4,16.9,0.01,17.3" stroke-dashoffset="0"/>
<path d="M768.1,454.4 L780,458.1 L769.4,464.4 Z" fill="#c40000" stroke="#c40000" stroke-width="0.8" stroke-linejoin="round"/>
<circle cx="609.2" cy="493.5" r="6.0" fill="#c40000"/>
<path d="M107.90,595.50 L110.76,594.79 L113.62,594.08 L116.48,593.37 L119.34,592.66 L122.20,591.95 L125.06,591.24 L127.92,590.53 L130.78,589.82 L133.64,589.11 L136.50,588.42 L137.98,588.01 L139.47,587.62 L140.96,587.24 L142.45,586.87 L143.94,586.51 L145.43,586.16 L146.93,585.82 L148.43,585.50 L149.93,585.18 L151.43,584.87 L152.93,584.57 L154.43,584.28 L155.94,583.99 L157.45,583.72 L158.96,583.45 L160.47,583.19 L161.98,582.93 L163.49,582.68 L165.00,582.44 L166.52,582.20 L168.03,581.96 L169.55,581.73 L171.06,581.50 L172.58,581.28 L174.10,581.06 L175.62,580.84 L177.14,580.62 L178.66,580.41 L180.17,580.19 L181.69,579.98 L183.21,579.77 L184.73,579.56 L186.25,579.34 L187.77,579.13 L189.29,578.91 L190.81,578.70 L192.33,578.48 L193.84,578.25 L195.36,578.03 L196.88,577.80 L198.39,577.57 L199.91,577.33 L201.42,577.09 L202.94,576.85 L204.45,576.59 L205.96,576.34 L207.47,576.07 L208.98,575.80 L210.49,575.52 L211.99,575.24 L213.50,574.95 L215.00,574.64 L216.50,574.33 L218.00,574.01" fill="none" stroke="#00ad4f" stroke-width="4.3" stroke-linecap="round" stroke-linejoin="round" stroke-dasharray="28.3,17" stroke-dashoffset="-1"/>
<path d="M219,569 L230,573 L221,580.4 Z" fill="#00ad4f" stroke="#00ad4f" stroke-width="0.8" stroke-linejoin="round"/>
<circle cx="107.9" cy="595.5" r="6.0" fill="#00ad4f"/>
<path d="M266.95,568.81 L268.42,568.41 L269.90,568.02 L271.38,567.65 L272.86,567.28 L274.35,566.92 L275.83,566.57 L277.32,566.22 L278.81,565.89 L280.30,565.56 L281.79,565.24 L283.28,564.93 L284.78,564.62 L286.28,564.32 L287.77,564.03 L289.27,563.75 L290.77,563.47 L292.27,563.19 L293.78,562.92 L295.28,562.66 L296.78,562.40 L298.29,562.14 L299.80,561.89 L301.30,561.65 L302.81,561.40 L304.32,561.16 L305.83,560.93 L307.34,560.69 L308.85,560.46 L310.36,560.23 L311.87,560.01 L313.38,559.78 L314.90,559.56 L316.41,559.34 L317.92,559.12 L319.43,558.90 L320.95,558.68 L322.46,558.46 L323.97,558.24 L325.49,558.02 L327.00,557.80 L328.51,557.57 L330.03,557.35 L331.54,557.13 L333.05,556.90 L334.56,556.67 L336.07,556.44 L337.58,556.21 L339.09,555.98 L340.60,555.74 L342.11,555.49 L343.62,555.25 L345.13,555.00 L346.64,554.74 L348.14,554.49 L349.65,554.22 L351.15,553.96 L352.65,553.68 L354.16,553.40 L355.66,553.12 L357.16,552.83 L358.65,552.53 L360.15,552.23 L361.65,551.92 L363.14,551.60 L364.63,551.27 L366.12,550.94 L367.61,550.60 L369.10,550.25 L370.59,549.89 L372.07,549.53 L373.56,549.15 L375.04,548.77 L376.52,548.37 L377.99,547.97" fill="none" stroke="#00ad4f" stroke-width="4.3" stroke-linecap="round" stroke-linejoin="round" stroke-dasharray="28.3,17" stroke-dashoffset="-1"/>
<path d="M377,543 L389,545.6 L380,553 Z" fill="#00ad4f" stroke="#00ad4f" stroke-width="0.8" stroke-linejoin="round"/>
<circle cx="267" cy="569" r="6.0" fill="#00ad4f"/>
<path d="M425.83,539.55 L427.30,539.11 L428.77,538.68 L430.24,538.26 L431.71,537.85 L433.19,537.45 L434.67,537.05 L436.15,536.66 L437.63,536.29 L439.11,535.91 L440.60,535.55 L442.09,535.19 L443.58,534.84 L445.07,534.50 L446.57,534.17 L448.06,533.84 L449.56,533.51 L451.06,533.20 L452.56,532.89 L454.06,532.58 L455.57,532.28 L457.07,531.99 L458.58,531.70 L460.09,531.41 L461.60,531.13 L463.11,530.86 L464.62,530.59 L466.14,530.32 L467.65,530.06 L469.17,529.80 L470.69,529.54 L472.20,529.29 L473.72,529.04 L475.24,528.80 L476.76,528.55 L478.28,528.31 L479.80,528.07 L481.32,527.84 L482.85,527.60 L484.37,527.37 L485.89,527.14 L487.41,526.91 L488.94,526.68 L490.46,526.45 L491.99,526.22 L493.51,526.00 L495.03,525.77 L496.56,525.54 L498.08,525.32 L499.61,525.09 L501.13,524.86 L502.65,524.63 L504.18,524.40 L505.70,524.17 L507.22,523.94 L508.74,523.71 L510.26,523.47 L511.78,523.23 L513.30,523.00 L514.82,522.75 L516.34,522.51 L517.86,522.26 L519.38,522.01 L520.89,521.76 L522.41,521.50 L523.92,521.24 L525.44,520.98 L526.95,520.71 L528.46,520.44 L529.97,520.16 L531.47,519.88 L532.98,519.60 L534.49,519.31 L535.99,519.01" fill="none" stroke="#00ad4f" stroke-width="4.3" stroke-linecap="round" stroke-linejoin="round" stroke-dasharray="28.3,17" stroke-dashoffset="-1"/>
<path d="M536,515 L548,517.6 L538,525 Z" fill="#00ad4f" stroke="#00ad4f" stroke-width="0.8" stroke-linejoin="round"/>
<circle cx="426" cy="540" r="6.0" fill="#00ad4f"/>
<path d="M584.89,513.62 L586.39,513.28 L587.89,512.94 L589.38,512.61 L590.88,512.29 L592.38,511.97 L593.89,511.65 L595.39,511.33 L596.89,511.02 L598.40,510.71 L599.90,510.41 L601.41,510.11 L602.91,509.81 L604.42,509.52 L605.93,509.23 L607.44,508.94 L608.95,508.65 L610.46,508.37 L611.97,508.09 L613.48,507.81 L615.00,507.54 L616.51,507.26 L618.02,506.99 L619.54,506.73 L621.05,506.46 L622.57,506.20 L624.09,505.93 L625.60,505.67 L627.12,505.42 L628.64,505.16 L630.16,504.91 L631.68,504.65 L633.19,504.40 L634.71,504.15 L636.23,503.90 L637.75,503.65 L639.27,503.41 L640.79,503.16 L642.31,502.92 L643.84,502.67 L645.36,502.43 L646.88,502.19 L648.40,501.95 L649.92,501.71 L651.44,501.46 L652.96,501.22 L654.49,500.98 L656.01,500.74 L657.53,500.50 L659.05,500.26 L660.57,500.02 L662.09,499.78 L663.62,499.54 L665.14,499.30 L666.66,499.06 L668.18,498.82 L669.70,498.57 L671.22,498.33 L672.74,498.09 L674.26,497.84 L675.78,497.59 L677.30,497.35 L678.82,497.10 L680.34,496.85 L681.86,496.60 L683.37,496.35 L684.89,496.09 L686.41,495.84 L687.92,495.58 L689.44,495.32 L690.95,495.06 L692.47,494.79 L693.98,494.53" fill="none" stroke="#00ad4f" stroke-width="4.3" stroke-linecap="round" stroke-linejoin="round" stroke-dasharray="28.3,17" stroke-dashoffset="-1"/>
<path d="M696.5,488.9 L706.3,489.7 L698.1,497.8 Z" fill="#00ad4f" stroke="#00ad4f" stroke-width="0.8" stroke-linejoin="round"/>
<circle cx="585" cy="514" r="6.0" fill="#00ad4f"/>
<path d="M743.75,484.40 L772.50,477.25" fill="none" stroke="#00ad4f" stroke-width="4.3" stroke-linecap="round" stroke-linejoin="round" stroke-dasharray="28.3,17" stroke-dashoffset="-1"/>
<path d="M781.25,470 L792.5,473.5 L782.5,480.6 Z" fill="#00ad4f" stroke="#00ad4f" stroke-width="0.8" stroke-linejoin="round"/>
<circle cx="743.75" cy="484.4" r="6.0" fill="#00ad4f"/>
<text x="80.50" y="453.29" text-anchor="end" font-size="18">1600</text>
<text x="80.50" y="491.94" text-anchor="end" font-size="18">1200</text>
<text x="80.50" y="530.60" text-anchor="end" font-size="18">800</text>
<text x="80.50" y="569.25" text-anchor="end" font-size="18">400</text>
<text x="80.50" y="607.90" text-anchor="end" font-size="18">0</text>
<text x="96.30" y="628.50" text-anchor="middle" font-size="18">0</text>
<text x="157.40" y="628.50" text-anchor="middle" font-size="18">0.5</text>
<text x="218.50" y="628.50" text-anchor="middle" font-size="18">1</text>
<text x="279.60" y="628.50" text-anchor="middle" font-size="18">1.5</text>
<text x="340.70" y="628.50" text-anchor="middle" font-size="18">2</text>
<text x="401.80" y="628.50" text-anchor="middle" font-size="18">2.5</text>
<text x="462.90" y="628.50" text-anchor="middle" font-size="18">3</text>
<text x="524.00" y="628.50" text-anchor="middle" font-size="18">3.5</text>
<text x="585.10" y="628.50" text-anchor="middle" font-size="18">4</text>
<text x="646.20" y="628.50" text-anchor="middle" font-size="18">4.5</text>
<text x="707.30" y="628.50" text-anchor="middle" font-size="18">5</text>
<text x="768.40" y="628.50" text-anchor="middle" font-size="18">5.5</text>
<text transform="translate(15.8,521.5) rotate(-90)" text-anchor="middle" font-size="20" font-weight="bold">Driving Distance</text>
<text transform="translate(38,521) rotate(-90)" text-anchor="middle" font-size="19" font-weight="bold">[mm]</text>
<text x="443" y="649.5" text-anchor="middle" font-size="19.3" font-weight="bold">Time [s]</text>
</svg>
</body></html>
